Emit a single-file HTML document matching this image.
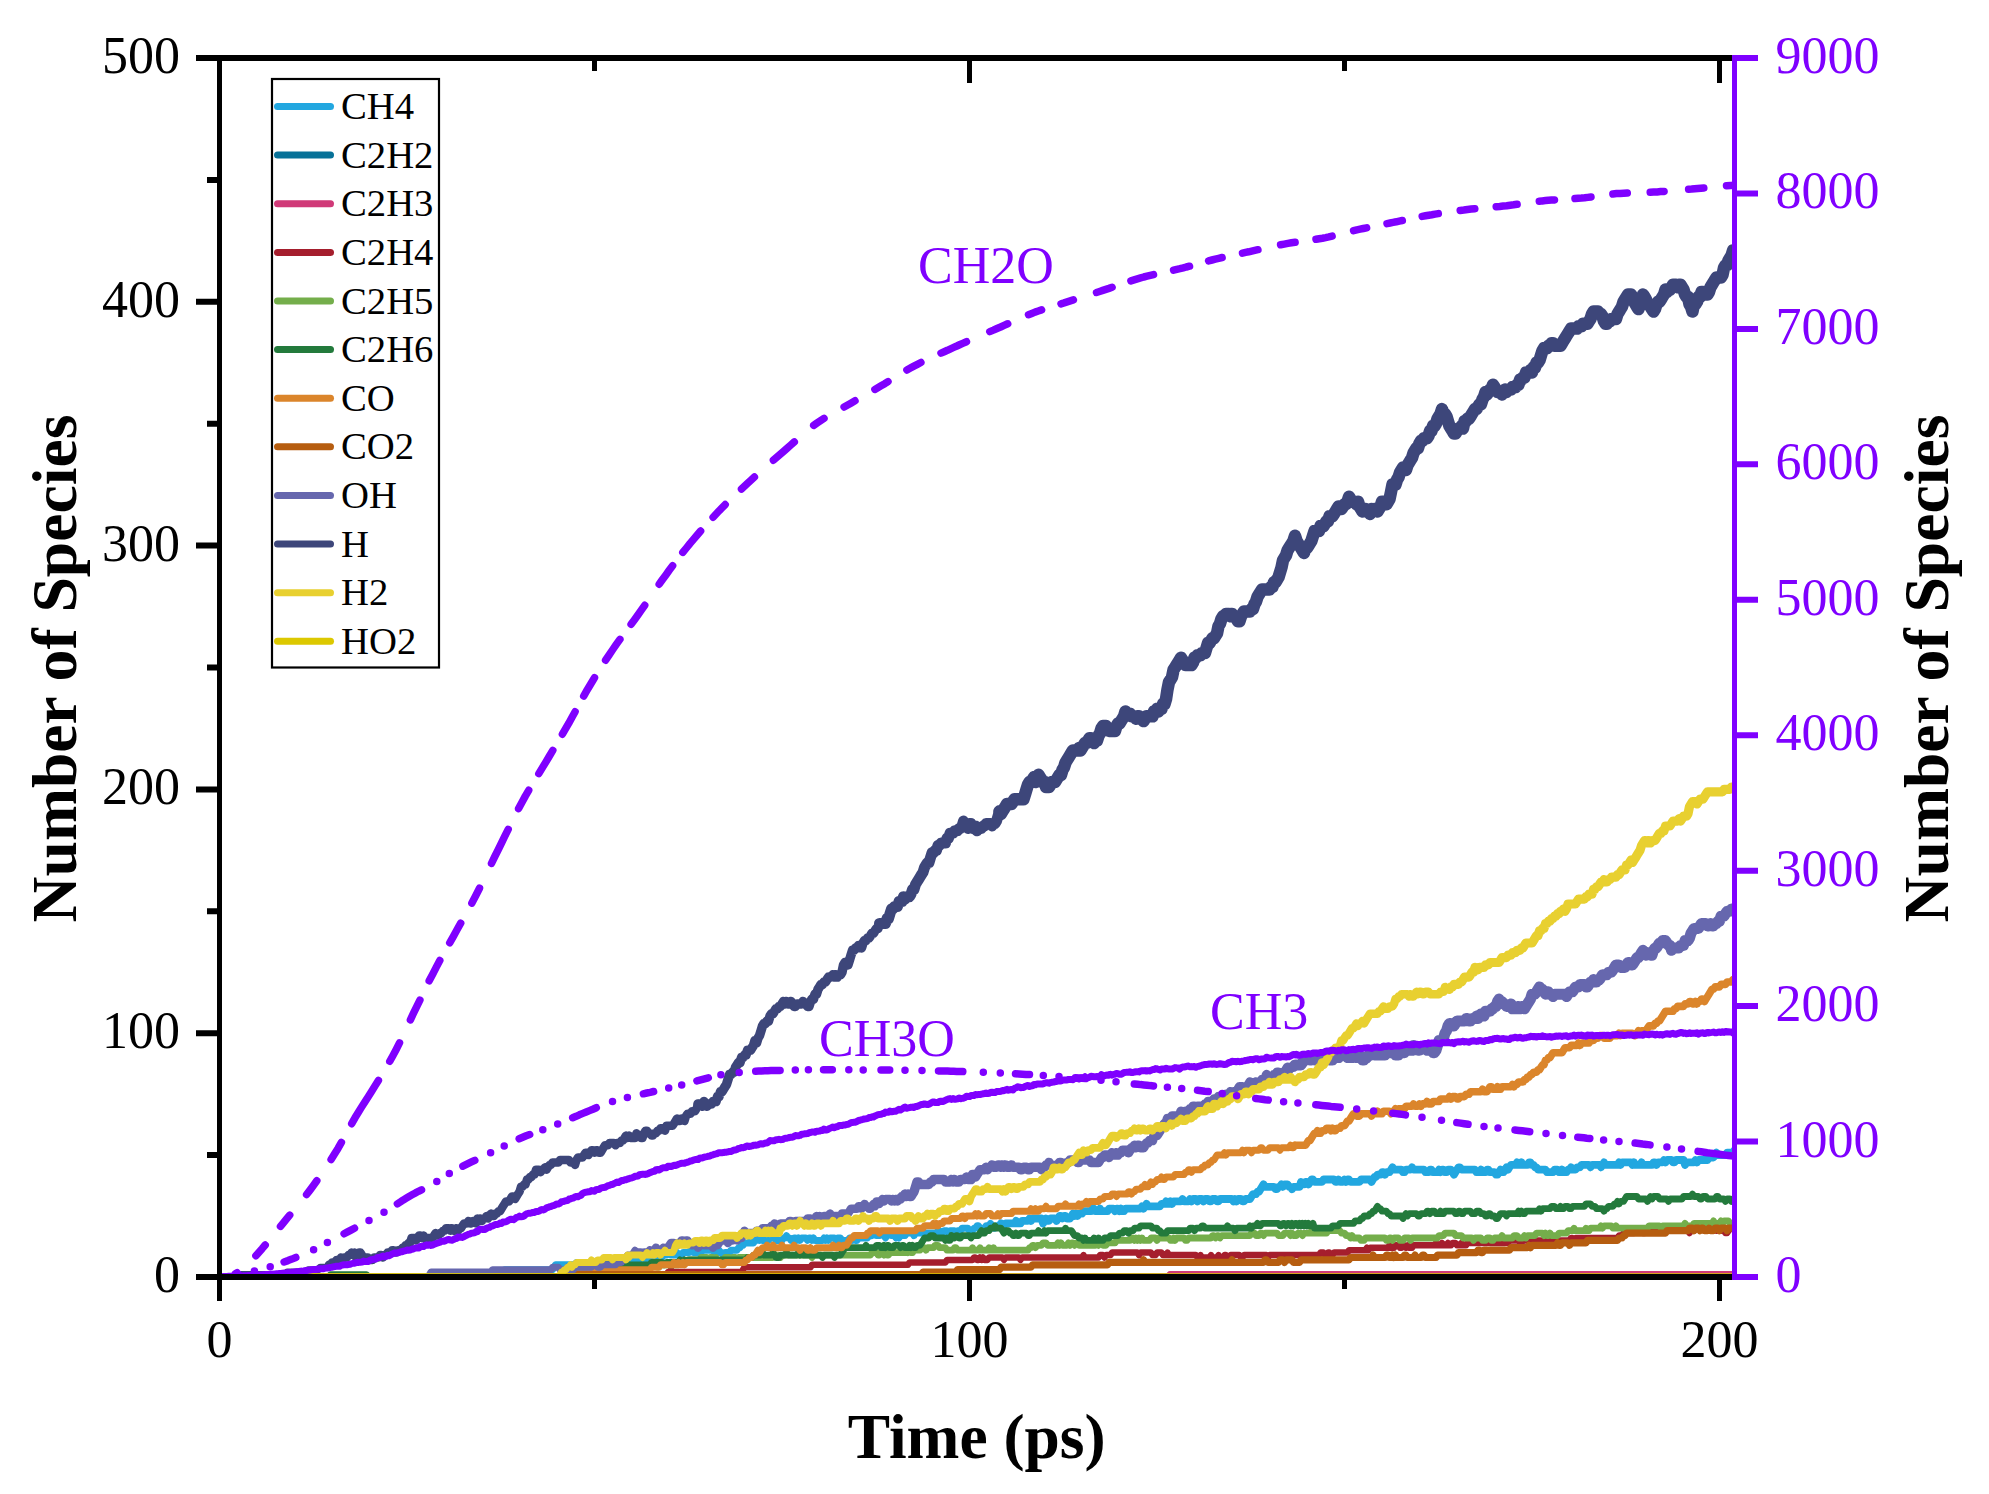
<!DOCTYPE html>
<html lang="en"><head><meta charset="utf-8"><title>Number of Species vs Time</title>
<style>
html,body{margin:0;padding:0;background:#fff}
svg{display:block}
text{font-family:"Liberation Serif",serif}
.tk{font-size:52px}
.lg{font-size:38.7px}
.ax{font-size:64px;font-weight:bold}
</style></head><body>
<svg width="1989" height="1494" viewBox="0 0 1989 1494">
<rect width="1989" height="1494" fill="#fff"/>
<defs><clipPath id="pc"><rect x="219.5" y="58.0" width="1515.0" height="1219.0"/></clipPath></defs>
<g clip-path="url(#pc)" fill="none" stroke-width="7" stroke-linejoin="round" stroke-linecap="round">
<path stroke="#22A7E0" stroke-width="7" d="M219.5 1277.0L500.0 1277.0L501.5 1274.6L503.0 1272.1L504.5 1269.7L552.5 1269.7L554.0 1267.2L555.5 1264.8L575.0 1264.8L576.5 1262.4L602.0 1262.4L603.5 1259.9L609.5 1259.9L611.0 1262.4L612.5 1262.4L614.0 1259.9L615.5 1262.4L617.0 1259.9L629.0 1259.9L630.5 1257.5L632.0 1259.9L633.5 1257.5L635.0 1257.5L636.5 1259.9L638.0 1257.5L639.5 1259.9L641.0 1259.9L642.5 1257.5L645.5 1257.5L647.0 1259.9L648.5 1257.5L657.5 1257.5L659.0 1255.1L660.5 1257.5L662.0 1257.5L663.5 1255.1L666.5 1255.1L668.0 1252.6L669.5 1252.6L671.0 1255.1L675.5 1255.1L677.0 1252.6L678.5 1255.1L681.5 1255.1L683.0 1252.6L689.0 1252.6L690.5 1250.2L692.0 1250.2L693.5 1252.6L701.0 1252.6L702.5 1250.2L713.0 1250.2L714.5 1252.6L717.5 1252.6L719.0 1250.2L720.5 1252.6L722.0 1252.6L723.5 1255.1L725.0 1252.6L729.5 1252.6L731.0 1250.2L737.0 1250.2L738.5 1247.7L740.0 1247.7L741.5 1245.3L743.0 1245.3L744.5 1242.9L749.0 1242.9L750.5 1240.4L752.0 1242.9L753.5 1242.9L755.0 1240.4L756.5 1240.4L758.0 1238.0L759.5 1240.4L761.0 1238.0L762.5 1240.4L768.5 1240.4L770.0 1238.0L774.5 1238.0L776.0 1240.4L782.0 1240.4L783.5 1238.0L785.0 1238.0L786.5 1235.6L788.0 1238.0L789.5 1238.0L791.0 1240.4L792.5 1240.4L794.0 1238.0L795.5 1238.0L797.0 1240.4L798.5 1238.0L800.0 1240.4L801.5 1238.0L806.0 1238.0L807.5 1240.4L809.0 1238.0L810.5 1238.0L812.0 1240.4L813.5 1238.0L815.0 1240.4L822.5 1240.4L824.0 1238.0L825.5 1240.4L827.0 1238.0L828.5 1240.4L830.0 1238.0L834.5 1238.0L836.0 1240.4L837.5 1238.0L840.5 1238.0L842.0 1240.4L848.0 1240.4L849.5 1238.0L851.0 1238.0L852.5 1240.4L854.0 1238.0L855.5 1240.4L857.0 1240.4L858.5 1238.0L867.5 1238.0L869.0 1235.6L870.5 1233.1L872.0 1235.6L873.5 1233.1L875.0 1233.1L876.5 1235.6L879.5 1235.6L881.0 1233.1L882.5 1233.1L884.0 1235.6L885.5 1238.0L887.0 1235.6L888.5 1233.1L890.0 1233.1L891.5 1235.6L894.5 1235.6L896.0 1238.0L897.5 1235.6L899.0 1238.0L900.5 1235.6L905.0 1235.6L906.5 1233.1L912.5 1233.1L914.0 1235.6L915.5 1233.1L917.0 1233.1L918.5 1230.7L920.0 1233.1L935.0 1233.1L936.5 1235.6L938.0 1230.7L939.5 1230.7L941.0 1233.1L942.5 1233.1L944.0 1230.7L947.0 1230.7L948.5 1233.1L950.0 1230.7L954.5 1230.7L956.0 1233.1L957.5 1230.7L960.5 1230.7L962.0 1228.2L968.0 1228.2L969.5 1230.7L972.5 1230.7L974.0 1228.2L975.5 1228.2L977.0 1225.8L978.5 1225.8L980.0 1228.2L981.5 1230.7L983.0 1228.2L984.5 1228.2L986.0 1225.8L989.0 1225.8L990.5 1223.4L992.0 1225.8L993.5 1228.2L995.0 1228.2L996.5 1225.8L999.5 1225.8"/>
<path stroke="#22A7E0" stroke-width="7.8" d="M999.5 1225.8L1001.0 1223.4L1002.5 1225.8L1004.0 1225.8L1005.5 1223.4L1014.5 1223.4L1016.0 1220.9L1017.5 1223.4L1020.5 1223.4L1022.0 1220.9L1028.0 1220.9L1029.5 1218.5L1031.0 1220.9L1032.5 1218.5L1041.5 1218.5L1043.0 1223.4L1044.5 1220.9L1046.0 1218.5L1047.5 1220.9L1049.0 1220.9L1050.5 1218.5L1055.0 1218.5L1056.5 1220.9L1058.0 1218.5L1059.5 1216.0L1061.0 1216.0L1062.5 1218.5L1064.0 1216.0L1065.5 1216.0L1067.0 1218.5L1070.0 1218.5L1071.5 1216.0L1073.0 1213.6L1074.5 1216.0L1076.0 1213.6L1077.5 1216.0L1079.0 1213.6L1082.0 1213.6L1083.5 1211.2L1091.0 1211.2L1092.5 1208.7L1094.0 1208.7L1095.5 1211.2L1098.5 1211.2L1100.0 1208.7L1101.5 1211.2L1107.5 1211.2L1109.0 1208.7L1113.5 1208.7L1115.0 1211.2L1116.5 1208.7L1118.0 1208.7L1119.5 1211.2L1121.0 1208.7L1122.5 1211.2L1124.0 1211.2L1125.5 1208.7L1140.5 1208.7L1142.0 1206.3L1143.5 1208.7L1145.0 1206.3L1146.5 1203.9L1148.0 1206.3L1160.0 1206.3L1161.5 1203.9L1164.5 1203.9L1166.0 1201.4L1167.5 1203.9L1169.0 1203.9L1170.5 1201.4L1172.0 1203.9L1173.5 1201.4L1181.0 1201.4L1182.5 1199.0L1184.0 1201.4L1188.5 1201.4L1190.0 1199.0L1191.5 1201.4L1193.0 1199.0L1196.0 1199.0L1197.5 1201.4L1199.0 1199.0L1202.0 1199.0L1203.5 1201.4L1205.0 1199.0L1208.0 1199.0L1209.5 1201.4L1211.0 1201.4L1212.5 1199.0L1215.5 1199.0L1217.0 1201.4L1218.5 1201.4L1220.0 1199.0L1232.0 1199.0L1233.5 1201.4L1235.0 1199.0L1236.5 1201.4L1238.0 1199.0L1241.0 1199.0L1242.5 1201.4L1244.0 1201.4L1245.5 1199.0L1250.0 1199.0L1251.5 1196.5L1253.0 1194.1L1256.0 1194.1L1257.5 1191.7L1259.0 1191.7L1260.5 1189.2L1262.0 1186.8L1263.5 1184.4L1265.0 1186.8L1274.0 1186.8L1275.5 1189.2L1277.0 1189.2L1278.5 1186.8L1280.0 1186.8L1281.5 1184.4L1283.0 1186.8L1284.5 1184.4L1287.5 1184.4L1289.0 1186.8L1290.5 1186.8L1292.0 1189.2L1293.5 1186.8L1299.5 1186.8L1301.0 1181.9L1302.5 1184.4L1304.0 1184.4L1305.5 1181.9L1307.0 1181.9L1308.5 1184.4L1310.0 1181.9L1311.5 1179.5L1313.0 1179.5L1314.5 1181.9L1322.0 1181.9L1323.5 1179.5L1334.0 1179.5L1335.5 1181.9L1337.0 1181.9L1338.5 1179.5L1340.0 1181.9L1343.0 1181.9L1344.5 1179.5L1346.0 1181.9L1347.5 1179.5L1349.0 1179.5L1350.5 1181.9L1359.5 1181.9L1361.0 1179.5L1370.0 1179.5L1371.5 1181.9L1373.0 1179.5L1374.5 1177.0L1376.0 1177.0L1377.5 1174.6L1380.5 1174.6L1382.0 1172.2L1383.5 1172.2L1385.0 1174.6L1386.5 1172.2L1389.5 1172.2L1391.0 1169.7L1392.5 1167.3L1394.0 1169.7L1401.5 1169.7L1403.0 1172.2L1404.5 1172.2L1406.0 1169.7L1410.5 1169.7L1412.0 1167.3L1413.5 1169.7L1424.0 1169.7L1425.5 1172.2L1428.5 1172.2L1430.0 1169.7L1431.5 1169.7L1433.0 1172.2L1437.5 1172.2L1439.0 1169.7L1440.5 1172.2L1442.0 1169.7L1443.5 1169.7L1445.0 1172.2L1446.5 1172.2L1448.0 1169.7L1451.0 1169.7L1452.5 1172.2L1454.0 1174.6L1455.5 1172.2L1457.0 1169.7L1458.5 1167.3L1460.0 1167.3L1461.5 1169.7L1475.0 1169.7L1476.5 1172.2L1479.5 1172.2L1481.0 1169.7L1482.5 1172.2L1485.5 1172.2L1487.0 1169.7L1488.5 1169.7L1490.0 1172.2L1494.5 1172.2L1496.0 1174.6L1497.5 1174.6L1499.0 1172.2L1500.5 1169.7L1502.0 1172.2L1503.5 1172.2L1505.0 1169.7L1506.5 1167.3L1508.0 1169.7L1509.5 1167.3L1511.0 1164.9L1515.5 1164.9L1517.0 1162.4L1518.5 1164.9L1520.0 1164.9L1521.5 1162.4L1523.0 1164.9L1527.5 1164.9L1529.0 1162.4L1530.5 1162.4L1532.0 1164.9L1533.5 1164.9L1535.0 1167.3L1536.5 1167.3L1538.0 1169.7L1545.5 1169.7L1547.0 1172.2L1553.0 1172.2L1554.5 1169.7L1557.5 1169.7L1559.0 1172.2L1560.5 1172.2L1562.0 1169.7L1563.5 1172.2L1566.5 1172.2L1568.0 1169.7L1569.5 1169.7L1571.0 1167.3L1572.5 1169.7L1575.5 1169.7L1577.0 1167.3L1580.0 1167.3L1581.5 1164.9L1589.0 1164.9L1590.5 1167.3L1592.0 1164.9L1599.5 1164.9L1601.0 1167.3L1602.5 1164.9L1604.0 1162.4L1605.5 1164.9L1617.5 1164.9L1619.0 1162.4L1620.5 1164.9L1622.0 1162.4L1631.0 1162.4L1632.5 1164.9L1634.0 1162.4L1635.5 1164.9L1640.0 1164.9L1641.5 1162.4L1643.0 1164.9L1652.0 1164.9L1653.5 1162.4L1655.0 1162.4L1656.5 1164.9L1658.0 1162.4L1662.5 1162.4L1664.0 1160.0L1665.5 1162.4L1667.0 1160.0L1671.5 1160.0L1673.0 1162.4L1674.5 1162.4L1676.0 1160.0L1683.5 1160.0L1685.0 1164.9L1686.5 1162.4L1694.0 1162.4L1695.5 1160.0L1697.0 1162.4L1698.5 1160.0L1707.5 1160.0L1709.0 1157.5L1713.5 1157.5L1715.0 1155.1L1716.5 1152.7L1718.0 1155.1L1725.5 1155.1L1727.0 1152.7L1733.0 1152.7L1734.5 1150.2"/>
<path stroke="#077198" stroke-width="7" d="M219.5 1276.8L1734.5 1276.8"/>
<path stroke="#D03A78" stroke-width="7" d="M219.5 1276.8L1168.0 1276.8L1170.0 1274.6L1734.5 1274.6"/>
<path stroke="#A51E2D" stroke-width="6.5" d="M219.5 1277.0L665.0 1277.0L666.5 1274.6L668.0 1272.1L669.5 1272.1L671.0 1269.7L672.5 1272.1L741.5 1272.1L743.0 1269.7L744.5 1267.2L810.5 1267.2L812.0 1264.8L908.0 1264.8L909.5 1262.4L945.5 1262.4L947.0 1259.9L972.5 1259.9L974.0 1257.5L975.5 1257.5L977.0 1259.9L978.5 1259.9L980.0 1257.5L981.5 1259.9L983.0 1257.5L984.5 1259.9L987.5 1259.9L989.0 1257.5L1002.5 1257.5L1004.0 1259.9L1005.5 1257.5L1019.0 1257.5L1020.5 1259.9L1022.0 1257.5L1082.0 1257.5L1083.5 1255.1L1085.0 1257.5L1098.5 1257.5L1100.0 1255.1L1103.0 1255.1L1104.5 1257.5L1106.0 1255.1L1110.5 1255.1L1112.0 1252.6L1137.5 1252.6L1139.0 1255.1L1140.5 1252.6L1151.0 1252.6L1152.5 1255.1L1155.5 1255.1L1157.0 1252.6L1161.5 1252.6L1163.0 1255.1L1166.0 1255.1L1167.5 1252.6L1169.0 1255.1L1196.0 1255.1L1197.5 1257.5L1199.0 1257.5L1200.5 1255.1L1202.0 1257.5L1209.5 1257.5L1211.0 1255.1L1212.5 1257.5L1217.0 1257.5L1218.5 1255.1L1220.0 1257.5L1223.0 1257.5L1224.5 1255.1L1226.0 1255.1L1227.5 1257.5L1229.0 1257.5L1230.5 1255.1L1239.5 1255.1L1241.0 1257.5L1242.5 1257.5L1244.0 1255.1L1266.5 1255.1L1268.0 1257.5L1269.5 1255.1L1319.0 1255.1L1320.5 1252.6L1323.5 1252.6L1325.0 1255.1L1326.5 1255.1L1328.0 1252.6L1329.5 1252.6L1331.0 1255.1L1332.5 1255.1L1334.0 1252.6L1347.5 1252.6L1349.0 1250.2L1365.5 1250.2L1367.0 1247.7L1368.5 1250.2L1370.0 1247.7L1388.0 1247.7L1389.5 1245.3L1391.0 1247.7L1394.0 1247.7L1395.5 1245.3L1398.5 1245.3L1400.0 1247.7L1401.5 1247.7L1403.0 1245.3L1404.5 1245.3L1406.0 1247.7L1407.5 1245.3L1409.0 1247.7L1412.0 1247.7L1413.5 1245.3L1434.5 1245.3L1436.0 1242.9L1437.5 1245.3L1440.5 1245.3L1442.0 1242.9L1443.5 1245.3L1446.5 1245.3L1448.0 1242.9L1449.5 1245.3L1451.0 1245.3L1452.5 1242.9L1455.5 1242.9L1457.0 1245.3L1460.0 1245.3L1461.5 1242.9L1463.0 1245.3L1466.0 1245.3L1467.5 1242.9L1487.0 1242.9L1488.5 1240.4L1490.0 1242.9L1505.0 1242.9L1506.5 1240.4L1508.0 1242.9L1509.5 1240.4L1518.5 1240.4L1520.0 1242.9L1521.5 1242.9L1523.0 1240.4L1550.0 1240.4L1551.5 1238.0L1553.0 1240.4L1569.5 1240.4L1571.0 1238.0L1572.5 1238.0L1574.0 1240.4L1575.5 1238.0L1617.5 1238.0L1619.0 1235.6L1622.0 1235.6L1623.5 1233.1L1634.0 1233.1L1635.5 1230.7L1641.5 1230.7L1643.0 1233.1L1644.5 1233.1L1646.0 1230.7L1670.0 1230.7L1671.5 1228.2L1673.0 1230.7L1674.5 1230.7L1676.0 1228.2L1677.5 1230.7L1679.0 1230.7L1680.5 1228.2L1682.0 1230.7L1688.0 1230.7L1689.5 1233.1L1691.0 1230.7L1694.0 1230.7L1695.5 1228.2L1703.0 1228.2L1704.5 1230.7L1706.0 1230.7L1707.5 1228.2L1709.0 1230.7L1710.5 1230.7L1712.0 1228.2L1713.5 1230.7L1715.0 1228.2L1716.5 1230.7L1718.0 1228.2L1719.5 1228.2L1721.0 1230.7L1724.0 1230.7L1725.5 1233.1L1727.0 1233.1L1728.5 1230.7L1730.0 1228.2L1733.0 1228.2L1734.5 1230.7"/>
<path stroke="#74AE4B" stroke-width="6.8" d="M219.5 1277.0L620.0 1277.0L621.5 1274.6L623.0 1274.6L624.5 1272.1L626.0 1272.1L627.5 1269.7L629.0 1269.7L630.5 1267.2L651.5 1267.2L653.0 1264.8L656.0 1264.8L657.5 1267.2L659.0 1267.2L660.5 1264.8L678.5 1264.8L680.0 1262.4L687.5 1262.4L689.0 1259.9L699.5 1259.9L701.0 1257.5L707.0 1257.5L708.5 1259.9L710.0 1257.5L713.0 1257.5L714.5 1259.9L716.0 1257.5L717.5 1259.9L723.5 1259.9L725.0 1257.5L729.5 1257.5L731.0 1259.9L732.5 1257.5L735.5 1257.5L737.0 1259.9L738.5 1257.5L773.0 1257.5L774.5 1255.1L779.0 1255.1L780.5 1257.5L782.0 1255.1L810.5 1255.1L812.0 1257.5L813.5 1255.1L870.5 1255.1L872.0 1252.6L876.5 1252.6L878.0 1255.1L879.5 1255.1L881.0 1252.6L882.5 1252.6L884.0 1255.1L885.5 1252.6L887.0 1255.1L888.5 1255.1L890.0 1252.6L905.0 1252.6L906.5 1250.2L908.0 1252.6L909.5 1250.2L911.0 1252.6L912.5 1252.6L914.0 1250.2L920.0 1250.2L921.5 1247.7L924.5 1247.7L926.0 1250.2L927.5 1247.7L933.5 1247.7L935.0 1245.3L938.0 1245.3L939.5 1247.7L945.5 1247.7L947.0 1250.2L953.0 1250.2L954.5 1247.7L956.0 1247.7L957.5 1250.2L971.0 1250.2L972.5 1247.7L974.0 1250.2L978.5 1250.2L980.0 1247.7L981.5 1250.2L987.5 1250.2L989.0 1247.7L990.5 1250.2L992.0 1250.2L993.5 1247.7L995.0 1250.2L1028.0 1250.2L1029.5 1247.7L1031.0 1247.7L1032.5 1245.3L1034.0 1245.3L1035.5 1247.7L1037.0 1245.3L1041.5 1245.3L1043.0 1242.9L1046.0 1242.9L1047.5 1245.3L1056.5 1245.3L1058.0 1242.9L1059.5 1245.3L1061.0 1242.9L1062.5 1245.3L1067.0 1245.3L1068.5 1242.9L1070.0 1245.3L1071.5 1242.9L1073.0 1242.9L1074.5 1245.3L1076.0 1242.9L1077.5 1242.9L1079.0 1245.3L1095.5 1245.3L1097.0 1242.9L1098.5 1245.3L1100.0 1242.9L1101.5 1242.9L1103.0 1245.3L1106.0 1245.3L1107.5 1242.9L1115.0 1242.9L1116.5 1240.4L1130.0 1240.4L1131.5 1238.0L1133.0 1238.0L1134.5 1240.4L1136.0 1238.0L1137.5 1240.4L1139.0 1238.0L1140.5 1240.4L1142.0 1238.0L1143.5 1240.4L1149.5 1240.4L1151.0 1238.0L1155.5 1238.0L1157.0 1240.4L1158.5 1238.0L1169.0 1238.0L1170.5 1240.4L1172.0 1240.4L1173.5 1238.0L1175.0 1240.4L1176.5 1238.0L1184.0 1238.0L1185.5 1240.4L1187.0 1240.4L1188.5 1238.0L1211.0 1238.0L1212.5 1235.6L1214.0 1235.6L1215.5 1238.0L1217.0 1235.6L1218.5 1235.6L1220.0 1238.0L1221.5 1235.6L1250.0 1235.6L1251.5 1233.1L1254.5 1233.1L1256.0 1235.6L1259.0 1235.6L1260.5 1233.1L1262.0 1233.1L1263.5 1235.6L1265.0 1233.1L1277.0 1233.1L1278.5 1235.6L1283.0 1235.6L1284.5 1233.1L1289.0 1233.1L1290.5 1235.6L1292.0 1233.1L1293.5 1235.6L1296.5 1235.6L1298.0 1233.1L1301.0 1233.1L1302.5 1235.6L1304.0 1233.1L1310.0 1233.1L1311.5 1230.7L1313.0 1233.1L1326.5 1233.1L1328.0 1230.7L1340.0 1230.7L1341.5 1233.1L1344.5 1233.1L1346.0 1235.6L1349.0 1235.6L1350.5 1238.0L1352.0 1235.6L1353.5 1238.0L1359.5 1238.0L1361.0 1240.4L1364.0 1240.4L1365.5 1238.0L1385.0 1238.0L1386.5 1240.4L1388.0 1240.4L1389.5 1238.0L1391.0 1238.0L1392.5 1240.4L1394.0 1238.0L1398.5 1238.0L1400.0 1240.4L1403.0 1240.4L1404.5 1238.0L1409.0 1238.0L1410.5 1240.4L1412.0 1238.0L1437.5 1238.0L1439.0 1235.6L1443.5 1235.6L1445.0 1233.1L1454.0 1233.1L1455.5 1235.6L1461.5 1235.6L1463.0 1238.0L1472.0 1238.0L1473.5 1240.4L1475.0 1238.0L1481.0 1238.0L1482.5 1240.4L1485.5 1240.4L1487.0 1238.0L1490.0 1238.0L1491.5 1240.4L1493.0 1240.4L1494.5 1238.0L1500.5 1238.0L1502.0 1235.6L1503.5 1238.0L1512.5 1238.0L1514.0 1235.6L1517.0 1235.6L1518.5 1238.0L1523.0 1238.0L1524.5 1235.6L1526.0 1238.0L1527.5 1235.6L1535.0 1235.6L1536.5 1233.1L1542.5 1233.1L1544.0 1235.6L1545.5 1233.1L1547.0 1235.6L1548.5 1235.6L1550.0 1233.1L1551.5 1235.6L1557.5 1235.6L1559.0 1233.1L1566.5 1233.1L1568.0 1230.7L1572.5 1230.7L1574.0 1228.2L1575.5 1230.7L1584.5 1230.7L1586.0 1228.2L1587.5 1230.7L1589.0 1230.7L1590.5 1228.2L1599.5 1228.2L1601.0 1225.8L1602.5 1228.2L1604.0 1225.8L1611.5 1225.8L1613.0 1228.2L1614.5 1228.2L1616.0 1225.8L1617.5 1228.2L1647.5 1228.2L1649.0 1225.8L1659.5 1225.8L1661.0 1228.2L1662.5 1225.8L1683.5 1225.8L1685.0 1223.4L1686.5 1225.8L1692.5 1225.8L1694.0 1223.4L1712.0 1223.4L1713.5 1220.9L1715.0 1223.4L1719.5 1223.4L1721.0 1220.9L1722.5 1223.4L1724.0 1220.9L1728.5 1220.9L1730.0 1223.4L1734.5 1223.4"/>
<path stroke="#237A3C" stroke-width="6.8" d="M219.5 1277.0L329.0 1277.0L330.5 1274.6L366.5 1274.6L368.0 1277.0L591.5 1277.0L593.0 1274.6L594.5 1272.1L596.0 1269.7L597.5 1264.8L650.0 1264.8L651.5 1262.4L662.0 1262.4L663.5 1264.8L665.0 1264.8L666.5 1262.4L678.5 1262.4L680.0 1259.9L681.5 1262.4L683.0 1262.4L684.5 1259.9L686.0 1262.4L687.5 1259.9L717.5 1259.9L719.0 1262.4L720.5 1259.9L746.0 1259.9L747.5 1257.5L752.0 1257.5L753.5 1255.1L761.0 1255.1L762.5 1252.6L764.0 1255.1L771.5 1255.1L773.0 1252.6L774.5 1255.1L776.0 1257.5L779.0 1257.5L780.5 1255.1L785.0 1255.1L786.5 1252.6L788.0 1255.1L797.0 1255.1L798.5 1252.6L800.0 1255.1L801.5 1252.6L803.0 1255.1L821.0 1255.1L822.5 1257.5L824.0 1255.1L833.0 1255.1L834.5 1257.5L836.0 1255.1L840.5 1255.1L842.0 1252.6L843.5 1250.2L845.0 1247.7L864.5 1247.7L866.0 1245.3L867.5 1247.7L875.0 1247.7L876.5 1245.3L879.5 1245.3L881.0 1247.7L882.5 1247.7L884.0 1245.3L885.5 1247.7L887.0 1245.3L888.5 1245.3L890.0 1247.7L893.0 1247.7L894.5 1245.3L899.0 1245.3L900.5 1247.7L902.0 1245.3L903.5 1245.3L905.0 1247.7L908.0 1247.7L909.5 1245.3L911.0 1247.7L912.5 1245.3L914.0 1247.7L915.5 1247.7L917.0 1245.3L920.0 1245.3L921.5 1242.9L923.0 1240.4L924.5 1238.0L929.0 1238.0L930.5 1235.6L933.5 1235.6L935.0 1238.0L944.0 1238.0L945.5 1240.4L947.0 1238.0L948.5 1240.4L950.0 1240.4L951.5 1235.6L953.0 1238.0L954.5 1238.0L956.0 1235.6L957.5 1235.6L959.0 1238.0L960.5 1238.0L962.0 1235.6L969.5 1235.6L971.0 1238.0L972.5 1235.6L978.5 1235.6L980.0 1233.1L981.5 1230.7L983.0 1233.1L984.5 1233.1L986.0 1230.7L989.0 1230.7L990.5 1228.2L993.5 1228.2L995.0 1225.8L996.5 1228.2L1001.0 1228.2L1002.5 1230.7L1004.0 1233.1L1005.5 1230.7L1008.5 1230.7L1010.0 1233.1L1011.5 1233.1L1013.0 1235.6L1014.5 1235.6L1016.0 1233.1L1017.5 1235.6L1019.0 1235.6L1020.5 1233.1L1026.5 1233.1L1028.0 1235.6L1029.5 1235.6L1031.0 1233.1L1037.0 1233.1L1038.5 1230.7L1040.0 1233.1L1043.0 1233.1L1044.5 1230.7L1046.0 1233.1L1047.5 1230.7L1064.0 1230.7L1065.5 1228.2L1067.0 1230.7L1071.5 1230.7L1073.0 1233.1L1074.5 1235.6L1077.5 1235.6L1079.0 1238.0L1082.0 1238.0L1083.5 1240.4L1085.0 1238.0L1086.5 1240.4L1092.5 1240.4L1094.0 1238.0L1095.5 1240.4L1097.0 1240.4L1098.5 1238.0L1100.0 1240.4L1103.0 1240.4L1104.5 1238.0L1109.0 1238.0L1110.5 1235.6L1118.0 1235.6L1119.5 1233.1L1122.5 1233.1L1124.0 1230.7L1127.0 1230.7L1128.5 1233.1L1130.0 1230.7L1133.0 1230.7L1134.5 1228.2L1139.0 1228.2L1140.5 1225.8L1151.0 1225.8L1152.5 1228.2L1157.0 1228.2L1158.5 1230.7L1160.0 1230.7L1161.5 1233.1L1166.0 1233.1L1167.5 1230.7L1188.5 1230.7L1190.0 1228.2L1193.0 1228.2L1194.5 1230.7L1196.0 1228.2L1200.5 1228.2L1202.0 1225.8L1203.5 1225.8L1205.0 1228.2L1226.0 1228.2L1227.5 1225.8L1229.0 1228.2L1233.5 1228.2L1235.0 1230.7L1236.5 1228.2L1248.5 1228.2L1250.0 1225.8L1251.5 1228.2L1253.0 1225.8L1256.0 1225.8L1257.5 1223.4L1259.0 1225.8L1260.5 1225.8L1262.0 1223.4L1278.5 1223.4L1280.0 1225.8L1281.5 1225.8L1283.0 1223.4L1284.5 1223.4L1286.0 1225.8L1287.5 1223.4L1289.0 1223.4L1290.5 1225.8L1292.0 1223.4L1293.5 1225.8L1295.0 1223.4L1296.5 1223.4L1298.0 1225.8L1299.5 1223.4L1301.0 1225.8L1302.5 1223.4L1304.0 1225.8L1305.5 1223.4L1307.0 1225.8L1308.5 1223.4L1310.0 1225.8L1311.5 1225.8L1313.0 1223.4L1314.5 1228.2L1331.0 1228.2L1332.5 1225.8L1338.5 1225.8L1340.0 1223.4L1353.5 1223.4L1355.0 1220.9L1359.5 1220.9L1361.0 1218.5L1362.5 1218.5L1364.0 1216.0L1368.5 1216.0L1370.0 1213.6L1371.5 1213.6L1373.0 1211.2L1374.5 1211.2L1376.0 1208.7L1377.5 1206.3L1379.0 1208.7L1380.5 1208.7L1382.0 1211.2L1386.5 1211.2L1388.0 1213.6L1389.5 1213.6L1391.0 1216.0L1401.5 1216.0L1403.0 1218.5L1404.5 1216.0L1406.0 1213.6L1407.5 1216.0L1409.0 1213.6L1416.5 1213.6L1418.0 1216.0L1419.5 1216.0L1421.0 1213.6L1425.5 1213.6L1427.0 1211.2L1428.5 1211.2L1430.0 1213.6L1431.5 1211.2L1434.5 1211.2L1436.0 1213.6L1439.0 1213.6L1440.5 1211.2L1442.0 1213.6L1443.5 1213.6L1445.0 1211.2L1454.0 1211.2L1455.5 1213.6L1457.0 1213.6L1458.5 1211.2L1460.0 1211.2L1461.5 1213.6L1463.0 1213.6L1464.5 1211.2L1470.5 1211.2L1472.0 1213.6L1475.0 1213.6L1476.5 1211.2L1479.5 1211.2L1481.0 1213.6L1484.0 1213.6L1485.5 1216.0L1487.0 1216.0L1488.5 1213.6L1490.0 1213.6L1491.5 1216.0L1494.5 1216.0L1496.0 1218.5L1497.5 1218.5L1499.0 1216.0L1500.5 1213.6L1505.0 1213.6L1506.5 1216.0L1508.0 1213.6L1517.0 1213.6L1518.5 1211.2L1520.0 1213.6L1521.5 1211.2L1523.0 1213.6L1524.5 1213.6L1526.0 1211.2L1538.0 1211.2L1539.5 1208.7L1541.0 1211.2L1542.5 1208.7L1550.0 1208.7L1551.5 1206.3L1554.5 1206.3L1556.0 1208.7L1559.0 1208.7L1560.5 1206.3L1562.0 1208.7L1563.5 1208.7L1565.0 1206.3L1568.0 1206.3L1569.5 1208.7L1571.0 1208.7L1572.5 1206.3L1584.5 1206.3L1586.0 1203.9L1590.5 1203.9L1592.0 1206.3L1595.0 1206.3L1596.5 1208.7L1602.5 1208.7L1604.0 1211.2L1605.5 1208.7L1607.0 1208.7L1608.5 1206.3L1613.0 1206.3L1614.5 1203.9L1616.0 1203.9L1617.5 1201.4L1619.0 1203.9L1620.5 1201.4L1623.5 1201.4L1625.0 1199.0L1626.5 1196.5L1637.0 1196.5L1638.5 1199.0L1646.0 1199.0L1647.5 1201.4L1649.0 1199.0L1650.5 1196.5L1652.0 1199.0L1653.5 1196.5L1658.0 1196.5L1659.5 1199.0L1667.0 1199.0L1668.5 1201.4L1670.0 1199.0L1682.0 1199.0L1683.5 1196.5L1691.0 1196.5L1692.5 1194.1L1694.0 1196.5L1698.5 1196.5L1700.0 1199.0L1701.5 1199.0L1703.0 1196.5L1706.0 1196.5L1707.5 1199.0L1715.0 1199.0L1716.5 1196.5L1718.0 1196.5L1719.5 1199.0L1724.0 1199.0L1725.5 1201.4L1727.0 1199.0L1730.0 1199.0L1731.5 1201.4L1733.0 1199.0L1734.5 1201.4"/>
<path stroke="#DB852B" stroke-width="7" d="M219.5 1277.0L564.5 1277.0L566.0 1274.6L567.5 1274.6L569.0 1272.1L603.5 1272.1L605.0 1269.7L606.5 1269.7L608.0 1272.1L609.5 1269.7L650.0 1269.7L651.5 1267.2L659.0 1267.2L660.5 1264.8L672.5 1264.8L674.0 1262.4L675.5 1264.8L677.0 1264.8L678.5 1262.4L680.0 1264.8L681.5 1264.8L683.0 1262.4L684.5 1264.8L686.0 1262.4L720.5 1262.4L722.0 1264.8L723.5 1264.8L725.0 1262.4L744.5 1262.4L746.0 1259.9L747.5 1259.9L749.0 1257.5L752.0 1257.5L753.5 1255.1L755.0 1255.1L756.5 1252.6L758.0 1250.2L759.5 1252.6L761.0 1250.2L762.5 1247.7L765.5 1247.7L767.0 1245.3L768.5 1247.7L771.5 1247.7L773.0 1245.3L774.5 1247.7L780.5 1247.7L782.0 1245.3L783.5 1247.7L792.5 1247.7L794.0 1245.3L795.5 1247.7L798.5 1247.7L800.0 1250.2L801.5 1247.7L806.0 1247.7L807.5 1250.2L809.0 1250.2L810.5 1247.7L812.0 1250.2L815.0 1250.2L816.5 1247.7L831.5 1247.7L833.0 1245.3L834.5 1247.7L837.5 1247.7L839.0 1245.3L840.5 1247.7L842.0 1247.7L843.5 1245.3L846.5 1245.3L848.0 1242.9L849.5 1240.4L851.0 1238.0L852.5 1238.0L854.0 1235.6L866.0 1235.6L867.5 1233.1L869.0 1233.1L870.5 1230.7L878.0 1230.7L879.5 1233.1L881.0 1230.7L915.5 1230.7L917.0 1228.2L923.0 1228.2L924.5 1225.8L932.0 1225.8L933.5 1223.4L935.0 1225.8L936.5 1223.4L938.0 1225.8L939.5 1223.4L942.5 1223.4L944.0 1220.9L950.0 1220.9L951.5 1218.5L960.5 1218.5L962.0 1216.0L963.5 1216.0L965.0 1218.5L966.5 1216.0L974.0 1216.0L975.5 1213.6L977.0 1216.0L978.5 1213.6L980.0 1216.0L984.5 1216.0L986.0 1213.6L990.5 1213.6L992.0 1216.0L996.5 1216.0L998.0 1213.6L999.5 1216.0L1001.0 1213.6L1011.5 1213.6L1013.0 1211.2L1029.5 1211.2L1031.0 1208.7L1032.5 1211.2L1034.0 1211.2L1035.5 1208.7L1037.0 1211.2L1038.5 1211.2L1040.0 1208.7L1044.5 1208.7L1046.0 1206.3L1047.5 1208.7L1056.5 1208.7L1058.0 1206.3L1064.0 1206.3L1065.5 1203.9L1067.0 1206.3L1077.5 1206.3L1079.0 1203.9L1080.5 1206.3L1082.0 1203.9L1085.0 1203.9L1086.5 1201.4L1088.0 1203.9L1089.5 1201.4L1098.5 1201.4L1100.0 1199.0L1103.0 1199.0L1104.5 1196.5L1110.5 1196.5L1112.0 1194.1L1115.0 1194.1L1116.5 1196.5L1118.0 1194.1L1127.0 1194.1L1128.5 1191.7L1130.0 1191.7L1131.5 1194.1L1133.0 1191.7L1134.5 1191.7L1136.0 1189.2L1140.5 1189.2L1142.0 1186.8L1143.5 1186.8L1145.0 1184.4L1146.5 1186.8L1148.0 1186.8L1149.5 1184.4L1151.0 1181.9L1152.5 1184.4L1154.0 1181.9L1155.5 1181.9L1157.0 1179.5L1160.0 1179.5L1161.5 1177.0L1163.0 1179.5L1164.5 1179.5L1166.0 1177.0L1173.5 1177.0L1175.0 1174.6L1184.0 1174.6L1185.5 1172.2L1187.0 1172.2L1188.5 1169.7L1190.0 1169.7L1191.5 1172.2L1193.0 1169.7L1200.5 1169.7L1202.0 1167.3L1203.5 1167.3L1205.0 1164.9L1208.0 1164.9L1209.5 1162.4L1211.0 1162.4L1212.5 1160.0L1214.0 1160.0L1215.5 1157.5L1217.0 1155.1L1223.0 1155.1L1224.5 1152.7L1226.0 1155.1L1227.5 1152.7L1241.0 1152.7L1242.5 1150.2L1244.0 1152.7L1245.5 1150.2L1250.0 1150.2L1251.5 1152.7L1253.0 1150.2L1259.0 1150.2L1260.5 1147.8L1262.0 1147.8L1263.5 1150.2L1268.0 1150.2L1269.5 1147.8L1278.5 1147.8L1280.0 1150.2L1281.5 1147.8L1289.0 1147.8L1290.5 1145.3L1292.0 1147.8L1293.5 1147.8L1295.0 1145.3"/>
<path stroke="#DB852B" stroke-width="7.6" d="M1295.0 1145.3L1305.5 1145.3L1307.0 1142.9L1308.5 1140.5L1310.0 1140.5L1311.5 1138.0L1313.0 1135.6L1314.5 1133.2L1316.0 1133.2L1317.5 1130.7L1319.0 1133.2L1320.5 1133.2L1322.0 1130.7L1325.0 1130.7L1326.5 1128.3L1329.5 1128.3L1331.0 1130.7L1332.5 1128.3L1334.0 1130.7L1335.5 1130.7L1337.0 1128.3L1340.0 1128.3L1341.5 1125.8L1344.5 1125.8L1346.0 1123.4L1347.5 1121.0L1349.0 1121.0L1350.5 1118.5L1352.0 1116.1L1353.5 1113.7L1355.0 1113.7L1356.5 1116.1L1359.5 1116.1L1361.0 1113.7L1370.0 1113.7L1371.5 1116.1L1373.0 1113.7L1376.0 1113.7L1377.5 1111.2L1379.0 1113.7L1382.0 1113.7L1383.5 1111.2L1389.5 1111.2L1391.0 1113.7L1392.5 1111.2L1394.0 1111.2L1395.5 1108.8L1397.0 1111.2L1398.5 1108.8L1404.5 1108.8L1406.0 1106.3L1412.0 1106.3L1413.5 1103.9L1415.0 1106.3L1418.0 1106.3L1419.5 1103.9L1421.0 1106.3L1422.5 1103.9L1425.5 1103.9L1427.0 1101.5L1428.5 1103.9L1431.5 1103.9L1433.0 1101.5L1439.0 1101.5L1440.5 1099.0L1448.0 1099.0L1449.5 1096.6L1451.0 1099.0L1452.5 1096.6L1455.5 1096.6L1457.0 1099.0L1458.5 1099.0L1460.0 1096.6L1464.5 1096.6L1466.0 1094.2L1469.0 1094.2L1470.5 1091.7L1481.0 1091.7L1482.5 1089.3L1484.0 1091.7L1487.0 1091.7L1488.5 1089.3L1490.0 1086.8L1491.5 1086.8L1493.0 1089.3L1496.0 1089.3L1497.5 1086.8L1499.0 1089.3L1500.5 1089.3L1502.0 1086.8L1511.0 1086.8L1512.5 1084.4L1514.0 1086.8L1515.5 1084.4L1517.0 1084.4L1518.5 1082.0L1523.0 1082.0L1524.5 1079.5L1526.0 1079.5L1527.5 1077.1L1529.0 1077.1L1530.5 1074.6L1532.0 1074.6L1533.5 1072.2L1536.5 1072.2L1538.0 1069.8L1539.5 1069.8L1541.0 1067.3L1542.5 1064.9L1544.0 1064.9L1545.5 1060.0L1547.0 1060.0L1548.5 1057.6L1550.0 1057.6L1551.5 1055.1L1553.0 1052.7L1562.0 1052.7L1563.5 1050.3L1565.0 1047.8L1569.5 1047.8L1571.0 1045.4L1577.0 1045.4L1578.5 1043.0L1580.0 1045.4L1581.5 1043.0L1589.0 1043.0L1590.5 1040.5L1593.5 1040.5L1595.0 1038.1L1598.0 1038.1L1599.5 1035.6L1602.5 1035.6L1604.0 1038.1L1610.0 1038.1L1611.5 1035.6L1617.5 1035.6L1619.0 1033.2L1620.5 1035.6L1622.0 1033.2L1632.5 1033.2L1634.0 1035.6L1635.5 1035.6L1637.0 1033.2L1638.5 1030.8L1640.0 1033.2L1641.5 1030.8L1646.0 1030.8L1647.5 1028.3L1649.0 1025.9L1653.5 1025.9L1655.0 1023.4L1656.5 1023.4L1658.0 1021.0L1659.5 1021.0L1661.0 1018.6L1662.5 1016.1L1664.0 1013.7L1665.5 1011.3L1673.0 1011.3L1674.5 1008.8L1676.0 1008.8L1677.5 1006.4L1683.5 1006.4L1685.0 1003.9L1688.0 1003.9L1689.5 1001.5L1691.0 1001.5L1692.5 1003.9L1694.0 1003.9L1695.5 1001.5L1697.0 1003.9L1698.5 1001.5L1700.0 1001.5L1701.5 999.1L1703.0 999.1L1704.5 1001.5L1706.0 999.1L1707.5 996.6L1709.0 994.2L1710.5 991.8L1712.0 989.3L1713.5 989.3L1715.0 986.9L1719.5 986.9L1721.0 984.4L1725.5 984.4L1727.0 982.0L1731.5 982.0L1733.0 979.6L1734.5 979.6"/>
<path stroke="#B65D10" stroke-width="7.2" d="M219.5 1277.0L570.5 1277.0L572.0 1274.6L921.5 1274.6L923.0 1272.1L956.0 1272.1L957.5 1269.7L999.5 1269.7L1001.0 1267.2L1031.0 1267.2L1032.5 1264.8L1107.5 1264.8L1109.0 1262.4L1142.0 1262.4L1143.5 1259.9L1145.0 1262.4L1230.5 1262.4L1232.0 1259.9L1233.5 1262.4L1263.5 1262.4L1265.0 1259.9L1266.5 1259.9L1268.0 1262.4L1278.5 1262.4L1280.0 1259.9L1283.0 1259.9L1284.5 1262.4L1286.0 1259.9L1292.0 1259.9L1293.5 1262.4L1299.5 1262.4L1301.0 1259.9L1349.0 1259.9L1350.5 1257.5L1371.5 1257.5L1373.0 1255.1L1374.5 1257.5L1385.0 1257.5L1386.5 1255.1L1388.0 1255.1L1389.5 1257.5L1391.0 1257.5L1392.5 1255.1L1394.0 1257.5L1395.5 1255.1L1397.0 1257.5L1403.0 1257.5L1404.5 1255.1L1406.0 1255.1L1407.5 1257.5L1413.5 1257.5L1415.0 1255.1L1416.5 1257.5L1421.0 1257.5L1422.5 1255.1L1424.0 1255.1L1425.5 1257.5L1436.0 1257.5L1437.5 1255.1L1457.0 1255.1L1458.5 1252.6L1476.5 1252.6L1478.0 1250.2L1479.5 1250.2L1481.0 1252.6L1482.5 1252.6L1484.0 1250.2L1509.5 1250.2L1511.0 1247.7L1527.5 1247.7L1529.0 1245.3L1530.5 1247.7L1532.0 1245.3L1556.0 1245.3L1557.5 1242.9L1559.0 1245.3L1560.5 1245.3L1562.0 1242.9L1568.0 1242.9L1569.5 1245.3L1571.0 1242.9L1586.0 1242.9L1587.5 1240.4L1617.5 1240.4L1619.0 1238.0L1622.0 1238.0L1623.5 1235.6L1625.0 1235.6L1626.5 1233.1L1665.5 1233.1L1667.0 1230.7L1688.0 1230.7L1689.5 1228.2L1692.5 1228.2L1694.0 1230.7L1695.5 1228.2L1698.5 1228.2L1700.0 1230.7L1701.5 1228.2L1703.0 1228.2L1704.5 1230.7L1707.5 1230.7L1709.0 1228.2L1710.5 1230.7L1713.5 1230.7L1715.0 1228.2L1718.0 1228.2L1719.5 1230.7L1721.0 1228.2L1725.5 1228.2L1727.0 1230.7L1728.5 1228.2L1734.5 1228.2"/>
<path stroke="#6667AE" stroke-width="7" d="M219.5 1277.0L428.0 1277.0L429.5 1274.6L431.0 1272.1L491.0 1272.1L492.5 1269.7L551.0 1269.7L552.5 1267.2L558.5 1267.2L560.0 1269.7L566.0 1269.7L567.5 1267.2L569.0 1269.7L573.5 1269.7L575.0 1267.2L591.5 1267.2L593.0 1264.8L596.0 1264.8L597.5 1267.2L600.5 1267.2L602.0 1264.8L615.5 1264.8L617.0 1262.4L621.5 1262.4L623.0 1257.5L624.5 1259.9L626.0 1257.5L627.5 1255.1L632.0 1255.1L633.5 1252.6L635.0 1250.2L636.5 1252.6"/>
<path stroke="#6667AE" stroke-width="8.5" d="M636.5 1252.6L641.0 1252.6L642.5 1255.1L644.0 1252.6L648.5 1252.6L650.0 1250.2L651.5 1252.6L653.0 1250.2L654.5 1250.2L656.0 1247.7L657.5 1250.2L662.0 1250.2L663.5 1247.7L665.0 1250.2L666.5 1247.7L668.0 1247.7L669.5 1245.3L671.0 1242.9L674.0 1242.9L675.5 1245.3L677.0 1245.3L678.5 1242.9L680.0 1242.9L681.5 1240.4L683.0 1240.4L684.5 1242.9L686.0 1240.4L687.5 1240.4L689.0 1242.9L690.5 1242.9L692.0 1245.3L693.5 1242.9L695.0 1242.9L696.5 1245.3L698.0 1247.7L699.5 1245.3L701.0 1245.3L702.5 1242.9L704.0 1245.3L708.5 1245.3L710.0 1242.9L711.5 1245.3L713.0 1247.7L714.5 1242.9L716.0 1245.3L717.5 1245.3L719.0 1242.9L720.5 1240.4L725.0 1240.4L726.5 1238.0L728.0 1242.9L729.5 1238.0L731.0 1240.4L732.5 1240.4L734.0 1238.0L735.5 1238.0L737.0 1240.4L738.5 1238.0L741.5 1238.0L743.0 1235.6L744.5 1230.7L746.0 1233.1L755.0 1233.1L756.5 1230.7L761.0 1230.7L762.5 1228.2L770.0 1228.2L771.5 1225.8L773.0 1225.8L774.5 1223.4L776.0 1225.8L779.0 1225.8L780.5 1223.4L788.0 1223.4L789.5 1220.9L791.0 1220.9L792.5 1223.4L794.0 1223.4L795.5 1220.9L806.0 1220.9L807.5 1218.5L810.5 1218.5L812.0 1220.9L813.5 1218.5L815.0 1218.5L816.5 1216.0L818.0 1218.5L819.5 1216.0L821.0 1218.5L822.5 1218.5L824.0 1216.0L828.5 1216.0L830.0 1213.6L831.5 1216.0L839.0 1216.0L840.5 1218.5L842.0 1213.6L845.0 1213.6L846.5 1216.0L848.0 1213.6L849.5 1211.2L851.0 1208.7L857.0 1208.7L858.5 1206.3L860.0 1206.3L861.5 1208.7L863.0 1206.3L864.5 1203.9L866.0 1206.3L867.5 1206.3L869.0 1208.7L870.5 1208.7L872.0 1206.3L873.5 1203.9L875.0 1206.3L876.5 1201.4L878.0 1201.4L879.5 1203.9L881.0 1201.4L882.5 1199.0L884.0 1201.4L885.5 1199.0L890.0 1199.0L891.5 1201.4L893.0 1199.0L894.5 1201.4L896.0 1199.0L897.5 1201.4L899.0 1199.0"/>
<path stroke="#6667AE" stroke-width="9.5" d="M899.0 1199.0L900.5 1199.0L902.0 1196.5L903.5 1196.5L905.0 1194.1L906.5 1196.5L908.0 1194.1L909.5 1196.5L911.0 1196.5L912.5 1194.1L914.0 1191.7L915.5 1186.8L917.0 1181.9L918.5 1181.9L920.0 1184.4L929.0 1184.4L930.5 1181.9L932.0 1181.9L933.5 1179.5L944.0 1179.5L945.5 1181.9L950.0 1181.9L951.5 1179.5L953.0 1181.9L954.5 1179.5L956.0 1181.9L959.0 1181.9L960.5 1179.5L965.0 1179.5L966.5 1177.0L968.0 1179.5L971.0 1179.5L972.5 1174.6L974.0 1174.6L975.5 1177.0L977.0 1174.6L978.5 1172.2L980.0 1169.7L984.5 1169.7L986.0 1167.3L987.5 1169.7L989.0 1167.3L990.5 1167.3L992.0 1164.9L993.5 1167.3L996.5 1167.3L998.0 1164.9L999.5 1164.9L1001.0 1167.3L1002.5 1164.9L1004.0 1167.3L1005.5 1164.9L1007.0 1167.3L1010.0 1167.3L1011.5 1164.9L1013.0 1167.3L1019.0 1167.3L1020.5 1169.7L1022.0 1169.7L1023.5 1167.3L1026.5 1167.3L1028.0 1169.7L1029.5 1169.7L1031.0 1167.3L1040.0 1167.3L1041.5 1169.7L1043.0 1167.3L1044.5 1167.3L1046.0 1164.9L1047.5 1164.9L1049.0 1162.4L1050.5 1164.9L1052.0 1164.9L1053.5 1167.3L1055.0 1167.3L1056.5 1164.9L1058.0 1164.9L1059.5 1162.4L1061.0 1162.4L1062.5 1164.9L1065.5 1164.9L1067.0 1162.4L1068.5 1162.4L1070.0 1160.0L1076.0 1160.0L1077.5 1162.4L1079.0 1162.4L1080.5 1160.0L1089.5 1160.0L1091.0 1162.4L1098.5 1162.4L1100.0 1160.0L1101.5 1157.5L1103.0 1157.5L1104.5 1155.1L1107.5 1155.1L1109.0 1157.5L1110.5 1155.1L1112.0 1152.7L1113.5 1155.1L1115.0 1155.1L1116.5 1152.7L1118.0 1155.1L1119.5 1152.7L1121.0 1152.7L1122.5 1150.2L1127.0 1150.2L1128.5 1152.7L1130.0 1150.2L1131.5 1147.8L1133.0 1147.8L1134.5 1145.3L1136.0 1147.8L1137.5 1145.3L1139.0 1145.3L1140.5 1147.8L1143.5 1147.8L1145.0 1145.3L1146.5 1142.9L1148.0 1142.9L1149.5 1140.5L1152.5 1140.5L1154.0 1135.6L1157.0 1135.6L1158.5 1133.2L1160.0 1130.7L1161.5 1128.3L1163.0 1125.8L1164.5 1123.4L1166.0 1123.4L1167.5 1118.5L1170.5 1118.5L1172.0 1116.1L1179.5 1116.1L1181.0 1111.2L1182.5 1113.7L1184.0 1113.7L1185.5 1111.2L1188.5 1111.2L1190.0 1108.8L1191.5 1108.8L1193.0 1106.3L1194.5 1106.3L1196.0 1108.8L1197.5 1106.3L1200.5 1106.3L1202.0 1108.8L1203.5 1106.3L1205.0 1103.9L1206.5 1103.9L1208.0 1101.5L1212.5 1101.5L1214.0 1099.0L1217.0 1099.0L1218.5 1096.6L1220.0 1096.6L1221.5 1099.0L1223.0 1096.6L1224.5 1096.6L1226.0 1094.2L1229.0 1094.2L1230.5 1091.7L1232.0 1094.2L1233.5 1091.7L1236.5 1091.7L1238.0 1089.3L1239.5 1086.8L1242.5 1086.8L1244.0 1089.3L1245.5 1086.8L1247.0 1086.8L1248.5 1084.4L1250.0 1082.0L1251.5 1084.4L1254.5 1084.4L1256.0 1082.0L1257.5 1084.4L1259.0 1082.0L1260.5 1082.0L1262.0 1079.5L1265.0 1079.5L1266.5 1074.6L1268.0 1077.1L1272.5 1077.1L1274.0 1074.6L1275.5 1074.6L1277.0 1072.2L1278.5 1072.2L1280.0 1074.6L1281.5 1074.6L1283.0 1072.2L1284.5 1072.2L1286.0 1069.8L1287.5 1067.3L1289.0 1069.8L1290.5 1067.3L1293.5 1067.3L1295.0 1064.9"/>
<path stroke="#6667AE" stroke-width="11" d="M1295.0 1064.9L1301.0 1064.9L1302.5 1062.5L1304.0 1060.0L1305.5 1060.0L1307.0 1057.6L1308.5 1057.6L1310.0 1060.0L1311.5 1060.0L1313.0 1057.6L1314.5 1060.0L1316.0 1057.6L1317.5 1060.0L1319.0 1060.0L1320.5 1057.6L1322.0 1057.6L1323.5 1055.1L1325.0 1057.6L1328.0 1057.6L1329.5 1060.0L1332.5 1060.0L1334.0 1057.6L1335.5 1055.1L1337.0 1057.6L1338.5 1057.6L1340.0 1052.7L1341.5 1055.1L1343.0 1052.7L1344.5 1055.1L1346.0 1055.1L1347.5 1057.6L1349.0 1055.1L1350.5 1057.6L1352.0 1057.6L1353.5 1055.1L1355.0 1055.1L1356.5 1057.6L1358.0 1055.1L1359.5 1055.1L1361.0 1057.6L1362.5 1060.0L1364.0 1060.0L1365.5 1057.6L1367.0 1057.6L1368.5 1055.1L1371.5 1055.1L1373.0 1052.7L1374.5 1055.1L1385.0 1055.1L1386.5 1052.7L1394.0 1052.7L1395.5 1055.1L1398.5 1055.1L1400.0 1052.7L1404.5 1052.7L1406.0 1050.3L1412.0 1050.3L1413.5 1045.4L1415.0 1047.8L1416.5 1047.8L1418.0 1050.3L1419.5 1050.3L1421.0 1047.8L1425.5 1047.8L1427.0 1050.3L1428.5 1047.8L1430.0 1050.3L1431.5 1050.3L1433.0 1052.7L1434.5 1052.7L1436.0 1050.3L1437.5 1045.4L1439.0 1040.5L1442.0 1040.5L1443.5 1038.1L1445.0 1033.2L1446.5 1030.8L1448.0 1025.9L1449.5 1023.4L1451.0 1023.4L1452.5 1025.9L1454.0 1025.9L1455.5 1023.4L1457.0 1021.0L1464.5 1021.0L1466.0 1018.6L1467.5 1018.6L1469.0 1021.0L1470.5 1021.0L1472.0 1018.6L1475.0 1018.6L1476.5 1016.1L1478.0 1018.6L1479.5 1016.1L1481.0 1013.7L1482.5 1013.7L1484.0 1016.1L1485.5 1011.3L1490.0 1011.3L1491.5 1008.8L1493.0 1008.8L1494.5 1006.4L1496.0 1006.4L1497.5 1001.5L1499.0 999.1L1500.5 1001.5L1502.0 1001.5L1503.5 1003.9L1505.0 1003.9L1506.5 1006.4L1509.5 1006.4L1511.0 1003.9L1512.5 1008.8L1517.0 1008.8L1518.5 1006.4L1520.0 1008.8L1521.5 1006.4L1523.0 1006.4L1524.5 1008.8L1526.0 1006.4L1527.5 1003.9L1529.0 1001.5L1530.5 999.1L1532.0 994.2L1535.0 994.2L1536.5 991.8L1538.0 989.3L1539.5 986.9L1541.0 989.3L1542.5 989.3L1544.0 991.8L1545.5 994.2L1547.0 991.8L1548.5 991.8L1550.0 994.2L1551.5 994.2L1553.0 996.6L1554.5 994.2L1565.0 994.2L1566.5 996.6L1568.0 994.2L1569.5 991.8L1572.5 991.8L1574.0 989.3L1575.5 986.9L1578.5 986.9L1580.0 984.4L1584.5 984.4L1586.0 986.9L1587.5 986.9L1589.0 984.4L1590.5 982.0L1592.0 982.0L1593.5 979.6L1595.0 982.0L1596.5 982.0L1598.0 979.6L1599.5 979.6L1601.0 977.1L1602.5 974.7L1607.0 974.7L1608.5 972.2L1611.5 972.2L1613.0 969.8L1614.5 967.4L1616.0 964.9L1619.0 964.9L1620.5 967.4L1625.0 967.4L1626.5 964.9L1628.0 962.5L1629.5 962.5L1631.0 964.9L1632.5 964.9L1634.0 962.5L1635.5 960.1L1637.0 957.6L1638.5 957.6L1640.0 955.2L1641.5 952.7L1643.0 950.3L1644.5 952.7L1646.0 955.2L1647.5 952.7L1649.0 952.7L1650.5 955.2L1652.0 955.2L1653.5 950.3L1655.0 947.9L1656.5 947.9L1658.0 945.4L1659.5 943.0L1661.0 943.0L1662.5 940.6L1665.5 940.6L1667.0 943.0L1668.5 945.4L1670.0 945.4L1671.5 950.3L1673.0 947.9L1679.0 947.9L1680.5 945.4L1683.5 945.4L1685.0 940.6L1688.0 940.6L1689.5 938.1L1691.0 933.2L1692.5 930.8L1694.0 928.4L1698.5 928.4L1700.0 925.9L1701.5 923.5L1706.0 923.5L1707.5 925.9L1709.0 925.9L1710.5 923.5L1712.0 925.9L1713.5 925.9L1715.0 923.5L1716.5 923.5L1718.0 921.1L1719.5 921.1L1721.0 916.2L1724.0 916.2L1725.5 913.7L1727.0 911.3L1730.0 911.3L1731.5 908.9L1734.5 908.9"/>
<path stroke="#3D467A" stroke-width="7" d="M219.5 1277.0L239.0 1277.0L240.5 1274.6L285.5 1274.6L287.0 1272.1L306.5 1272.1L308.0 1269.7L318.5 1269.7L320.0 1267.2L327.5 1267.2L329.0 1264.8"/>
<path stroke="#3D467A" stroke-width="8.5" d="M329.0 1264.8L330.5 1264.8L332.0 1262.4L335.0 1262.4L336.5 1259.9L339.5 1259.9L341.0 1257.5L342.5 1259.9L344.0 1257.5L347.0 1257.5L348.5 1255.1L350.0 1255.1L351.5 1252.6L353.0 1255.1L354.5 1252.6L356.0 1257.5L357.5 1255.1L359.0 1252.6L360.5 1252.6L362.0 1255.1L363.5 1257.5L368.0 1257.5L369.5 1259.9L372.5 1259.9L374.0 1257.5L378.5 1257.5L380.0 1255.1L381.5 1255.1L383.0 1257.5L384.5 1255.1L386.0 1255.1L387.5 1252.6L390.5 1252.6L392.0 1250.2L393.5 1250.2L395.0 1252.6L396.5 1252.6L398.0 1250.2L401.0 1250.2L402.5 1247.7L404.0 1247.7L405.5 1245.3L407.0 1245.3L408.5 1242.9L410.0 1242.9L411.5 1238.0L414.5 1238.0L416.0 1240.4L417.5 1238.0L419.0 1235.6L420.5 1235.6L422.0 1238.0L423.5 1235.6L425.0 1238.0L426.5 1240.4L428.0 1238.0L432.5 1238.0L434.0 1235.6L435.5 1233.1L437.0 1235.6L438.5 1235.6L440.0 1233.1L441.5 1233.1L443.0 1230.7L444.5 1230.7L446.0 1228.2L449.0 1228.2L450.5 1230.7L452.0 1228.2L453.5 1230.7L455.0 1230.7L456.5 1228.2L458.0 1230.7L459.5 1228.2L461.0 1228.2L462.5 1225.8L464.0 1223.4L467.0 1223.4L468.5 1220.9L470.0 1223.4L471.5 1223.4L473.0 1220.9L474.5 1220.9L476.0 1223.4L477.5 1218.5L479.0 1220.9L480.5 1218.5L482.0 1220.9L483.5 1218.5L485.0 1218.5L486.5 1216.0L488.0 1218.5L489.5 1216.0L491.0 1213.6L492.5 1216.0L494.0 1216.0L495.5 1213.6L497.0 1213.6L498.5 1211.2L500.0 1211.2L501.5 1208.7L503.0 1206.3L504.5 1203.9L506.0 1201.4L509.0 1201.4L510.5 1199.0L512.0 1196.5L513.5 1196.5L515.0 1199.0L516.5 1196.5L518.0 1194.1L519.5 1191.7L521.0 1186.8L522.5 1186.8L524.0 1184.4L525.5 1184.4L527.0 1179.5L528.5 1179.5L530.0 1177.0L531.5 1177.0L533.0 1174.6L534.5 1174.6L536.0 1169.7L539.0 1169.7L540.5 1172.2L542.0 1169.7L543.5 1169.7L545.0 1167.3L546.5 1169.7L548.0 1167.3L549.5 1164.9L551.0 1164.9L552.5 1162.4L558.5 1162.4L560.0 1160.0L569.0 1160.0L570.5 1162.4L573.5 1162.4L575.0 1164.9L576.5 1160.0L578.0 1157.5L582.5 1157.5L584.0 1155.1L585.5 1152.7L587.0 1152.7L588.5 1155.1L590.0 1152.7L591.5 1150.2L593.0 1150.2L594.5 1152.7L596.0 1150.2L597.5 1150.2L599.0 1152.7L600.5 1152.7L602.0 1150.2L603.5 1147.8L605.0 1145.3L608.0 1145.3L609.5 1142.9L614.0 1142.9L615.5 1145.3L617.0 1142.9L620.0 1142.9L621.5 1140.5L623.0 1140.5L624.5 1138.0L626.0 1135.6L627.5 1138.0L629.0 1135.6L630.5 1138.0L635.0 1138.0L636.5 1133.2L638.0 1135.6L639.5 1135.6L641.0 1138.0L642.5 1138.0L644.0 1133.2L645.5 1130.7L647.0 1130.7L648.5 1133.2L650.0 1133.2L651.5 1135.6L653.0 1135.6L654.5 1133.2L656.0 1133.2L657.5 1130.7L659.0 1130.7L660.5 1128.3L663.5 1128.3L665.0 1130.7L666.5 1125.8L672.5 1125.8L674.0 1123.4L675.5 1121.0L677.0 1118.5L678.5 1121.0L680.0 1121.0L681.5 1118.5L683.0 1118.5L684.5 1121.0L686.0 1116.1L687.5 1113.7L690.5 1113.7L692.0 1111.2L695.0 1111.2L696.5 1108.8L698.0 1103.9"/>
<path stroke="#3D467A" stroke-width="9.5" d="M698.0 1103.9L701.0 1103.9L702.5 1106.3L704.0 1101.5L705.5 1103.9L707.0 1106.3L708.5 1103.9L711.5 1103.9L713.0 1101.5L716.0 1101.5L717.5 1096.6L719.0 1096.6L720.5 1091.7L722.0 1091.7L723.5 1089.3L725.0 1086.8L726.5 1084.4L728.0 1079.5L729.5 1074.6L731.0 1074.6L732.5 1072.2L734.0 1072.2L735.5 1067.3L737.0 1064.9L738.5 1062.5L740.0 1062.5L741.5 1057.6L743.0 1057.6L744.5 1055.1L746.0 1055.1L747.5 1050.3L750.5 1050.3L752.0 1047.8L753.5 1045.4L755.0 1040.5L756.5 1043.0L758.0 1038.1L759.5 1035.6L761.0 1030.8L762.5 1025.9L764.0 1023.4L765.5 1023.4L767.0 1021.0L768.5 1021.0L770.0 1016.1L771.5 1013.7L773.0 1013.7L774.5 1011.3L776.0 1008.8L777.5 1008.8L779.0 1006.4L780.5 1006.4L782.0 1003.9L783.5 1001.5L785.0 1003.9L786.5 1001.5L788.0 1003.9L789.5 1003.9L791.0 1001.5L792.5 1003.9L794.0 1006.4L795.5 1006.4L797.0 1003.9L801.5 1003.9L803.0 1001.5L804.5 1003.9L806.0 1003.9L807.5 1006.4L809.0 1006.4L810.5 1001.5L812.0 999.1L813.5 999.1L815.0 994.2L816.5 994.2L818.0 989.3L819.5 986.9L821.0 984.4L822.5 984.4L824.0 982.0L825.5 982.0L827.0 979.6L828.5 977.1L831.5 977.1L833.0 974.7L834.5 977.1L836.0 974.7L837.5 977.1L839.0 974.7L840.5 974.7L842.0 972.2L843.5 964.9L845.0 962.5L846.5 964.9L848.0 964.9L849.5 960.1L851.0 955.2L852.5 950.3L854.0 950.3L855.5 947.9L857.0 947.9L858.5 945.4L860.0 945.4L861.5 947.9L863.0 943.0L864.5 940.6L866.0 940.6L867.5 938.1L869.0 938.1L870.5 935.7L872.0 933.2L873.5 933.2L875.0 930.8L876.5 928.4L878.0 928.4L879.5 923.5"/>
<path stroke="#3D467A" stroke-width="11" d="M879.5 923.5L885.5 923.5L887.0 918.6L888.5 918.6L890.0 913.7L891.5 908.9L893.0 908.9L894.5 906.4L897.5 906.4L899.0 901.5L902.0 901.5L903.5 896.7L905.0 899.1L906.5 896.7L909.5 896.7L911.0 894.2L912.5 889.4L914.0 889.4L915.5 884.5L917.0 882.0L918.5 879.6L920.0 877.2L921.5 874.7L923.0 872.3L924.5 867.4L926.0 865.0L927.5 862.5L929.0 862.5L930.5 857.7L932.0 852.8L933.5 852.8L935.0 850.3L936.5 850.3L938.0 845.5L939.5 845.5L941.0 843.0L945.5 843.0L947.0 838.2L948.5 838.2L950.0 833.3L953.0 833.3L954.5 830.8L957.5 830.8L959.0 828.4L960.5 828.4L962.0 826.0L963.5 821.1L965.0 823.5L966.5 823.5L968.0 828.4L969.5 823.5L971.0 823.5L972.5 828.4L974.0 826.0L975.5 826.0L977.0 830.8L978.5 828.4L981.5 828.4L983.0 826.0L984.5 826.0L986.0 823.5L990.5 823.5L992.0 826.0L993.5 823.5L995.0 823.5L996.5 821.1L998.0 816.2L999.5 811.3"/>
<path stroke="#3D467A" stroke-width="12.5" d="M999.5 811.3L1001.0 813.8L1002.5 811.3L1004.0 808.9L1005.5 806.5L1007.0 804.0L1011.5 804.0L1013.0 801.6L1014.5 799.2L1023.5 799.2L1025.0 794.3L1026.5 789.4L1028.0 784.5L1029.5 782.1L1031.0 782.1L1032.5 779.6L1034.0 777.2L1035.5 782.1L1037.0 777.2L1038.5 774.8L1040.0 777.2L1041.5 779.6L1043.0 782.1L1044.5 782.1L1046.0 787.0L1049.0 787.0L1050.5 784.5L1052.0 782.1L1055.0 782.1L1056.5 779.6L1058.0 777.2L1059.5 774.8L1061.0 774.8L1062.5 769.9L1064.0 767.5L1065.5 762.6L1067.0 760.1L1068.5 757.7L1070.0 755.3L1071.5 752.8L1073.0 750.4L1077.5 750.4L1079.0 748.0L1080.5 750.4L1082.0 748.0L1083.5 745.5L1085.0 743.1L1086.5 743.1L1088.0 740.6L1089.5 738.2L1091.0 738.2L1092.5 740.6L1094.0 743.1L1095.5 740.6L1097.0 740.6L1098.5 735.8L1100.0 733.3L1101.5 728.4L1103.0 726.0L1106.0 726.0L1107.5 728.4L1109.0 730.9L1115.0 730.9L1116.5 726.0L1118.0 723.6L1119.5 723.6L1121.0 721.1L1122.5 718.7L1124.0 716.3L1125.5 711.4L1127.0 713.8L1130.0 713.8L1131.5 716.3L1134.5 716.3L1136.0 718.7L1137.5 716.3L1139.0 716.3L1140.5 718.7L1142.0 718.7L1143.5 721.1L1145.0 718.7L1146.5 716.3L1152.5 716.3L1154.0 711.4L1155.5 711.4L1157.0 708.9L1158.5 711.4L1160.0 708.9L1161.5 708.9L1163.0 704.1L1164.5 704.1L1166.0 699.2L1167.5 689.4L1169.0 682.1L1170.5 679.7L1172.0 677.3L1173.5 669.9L1175.0 667.5L1176.5 665.1L1178.0 662.6L1179.5 660.2L1181.0 657.7L1182.5 660.2L1184.0 662.6L1185.5 665.1L1188.5 665.1L1190.0 662.6L1191.5 665.1L1193.0 662.6L1194.5 657.7L1196.0 657.7L1197.5 655.3L1200.5 655.3L1202.0 652.9L1205.0 652.9L1206.5 648.0L1208.0 643.1L1209.5 643.1L1211.0 640.7L1212.5 638.2L1214.0 638.2L1215.5 635.8L1217.0 633.4L1218.5 626.1L1220.0 623.6L1221.5 618.7L1223.0 616.3L1224.5 616.3L1226.0 613.9L1229.0 613.9L1230.5 616.3L1232.0 613.9L1233.5 616.3L1235.0 616.3L1236.5 618.7L1238.0 621.2L1239.5 621.2L1241.0 616.3L1242.5 613.9L1244.0 611.4L1250.0 611.4L1251.5 609.0L1253.0 609.0L1254.5 604.1L1256.0 601.7L1257.5 596.8L1259.0 594.4L1260.5 591.9L1262.0 589.5L1269.5 589.5L1271.0 587.0L1272.5 587.0L1274.0 582.2L1275.5 582.2L1277.0 579.7L1278.5 577.3L1280.0 572.4L1281.5 567.5L1283.0 560.2L1284.5 557.8L1286.0 555.4L1287.5 550.5L1289.0 548.0L1290.5 545.6L1292.0 543.2L1293.5 540.7L1295.0 535.8L1296.5 540.7L1298.0 543.2L1299.5 545.6L1301.0 548.0L1302.5 550.5L1304.0 552.9L1305.5 548.0L1307.0 548.0L1308.5 545.6L1310.0 543.2L1311.5 540.7L1313.0 535.8L1314.5 531.0L1319.0 531.0L1320.5 526.1L1323.5 526.1L1325.0 523.7L1326.5 521.2L1328.0 521.2L1329.5 516.3L1332.5 516.3L1334.0 513.9L1335.5 511.5L1337.0 509.0L1338.5 506.6L1340.0 506.6L1341.5 509.0L1343.0 506.6L1344.5 504.2L1346.0 504.2L1347.5 501.7L1349.0 496.8L1350.5 499.3L1352.0 501.7L1355.0 501.7L1356.5 504.2L1358.0 501.7L1359.5 506.6L1361.0 509.0L1362.5 511.5L1364.0 509.0L1365.5 509.0L1367.0 511.5L1368.5 511.5L1370.0 513.9L1371.5 509.0L1373.0 511.5L1374.5 509.0L1376.0 509.0L1377.5 511.5L1379.0 509.0L1380.5 506.6L1382.0 501.7L1385.0 501.7L1386.5 504.2L1388.0 501.7L1389.5 499.3L1391.0 492.0L1392.5 484.6L1395.5 484.6L1397.0 479.8L1398.5 477.3L1400.0 472.5L1401.5 470.0L1403.0 467.6L1404.5 467.6L1406.0 470.0L1407.5 465.1L1409.0 462.7L1410.5 460.3L1412.0 457.8L1413.5 453.0L1415.0 450.5L1416.5 448.1L1418.0 448.1L1419.5 443.2L1421.0 440.8L1422.5 440.8L1424.0 438.3L1427.0 438.3L1428.5 435.9L1430.0 431.0L1431.5 431.0L1433.0 426.1L1434.5 426.1L1436.0 423.7L1437.5 418.8L1439.0 416.4L1440.5 413.9L1442.0 409.1L1443.5 413.9L1445.0 413.9L1446.5 416.4L1448.0 421.3L1449.5 426.1L1451.0 428.6L1452.5 431.0L1454.0 433.5L1455.5 433.5L1457.0 431.0L1458.5 428.6L1460.0 428.6L1461.5 426.1L1463.0 428.6L1464.5 421.3L1466.0 421.3L1467.5 418.8L1469.0 418.8L1470.5 416.4L1472.0 413.9L1473.5 411.5L1475.0 409.1L1476.5 409.1L1478.0 406.6L1479.5 404.2L1481.0 404.2L1482.5 399.3L1484.0 396.9L1485.5 392.0L1487.0 394.4L1488.5 392.0L1490.0 389.6L1491.5 389.6L1493.0 384.7L1494.5 387.1L1496.0 389.6L1497.5 392.0L1500.5 392.0L1502.0 394.4L1503.5 392.0L1505.0 389.6L1506.5 392.0L1508.0 389.6L1511.0 389.6L1512.5 387.1L1515.5 387.1L1517.0 384.7L1518.5 384.7L1520.0 379.8L1521.5 379.8L1523.0 377.4L1524.5 377.4L1526.0 372.5L1529.0 372.5L1530.5 370.1L1532.0 372.5L1533.5 367.6L1535.0 367.6L1536.5 362.7L1538.0 362.7L1539.5 360.3L1541.0 355.4L1542.5 350.6L1544.0 348.1L1547.0 348.1L1548.5 345.7L1550.0 345.7L1551.5 343.2L1553.0 343.2L1554.5 345.7L1560.5 345.7L1562.0 343.2L1563.5 340.8L1565.0 338.4L1566.5 335.9L1568.0 333.5L1569.5 331.1L1571.0 328.6L1577.0 328.6L1578.5 326.2L1581.5 326.2L1583.0 323.7L1587.5 323.7L1589.0 321.3L1590.5 318.9L1592.0 314.0L1593.5 311.6L1598.0 311.6L1599.5 314.0L1601.0 314.0L1602.5 316.4L1604.0 321.3L1605.5 323.7L1607.0 323.7L1608.5 321.3L1610.0 321.3L1611.5 318.9L1616.0 318.9L1617.5 314.0L1619.0 311.6L1620.5 309.1L1622.0 306.7L1623.5 301.8L1625.0 299.4L1626.5 296.9L1628.0 294.5L1631.0 294.5L1632.5 296.9L1634.0 301.8L1635.5 304.2L1637.0 306.7L1638.5 309.1L1640.0 304.2L1641.5 301.8L1643.0 294.5L1644.5 296.9L1646.0 299.4L1647.5 304.2L1649.0 304.2L1650.5 306.7L1652.0 309.1L1653.5 311.6L1655.0 309.1L1656.5 304.2L1658.0 301.8L1659.5 301.8L1661.0 299.4L1662.5 296.9L1664.0 294.5L1665.5 289.6L1667.0 292.0L1668.5 289.6L1670.0 289.6L1671.5 287.2L1673.0 284.7L1676.0 284.7L1677.5 287.2L1679.0 284.7L1680.5 284.7L1682.0 287.2L1683.5 289.6L1685.0 294.5L1686.5 296.9L1688.0 296.9L1689.5 304.2L1691.0 306.7L1692.5 311.6L1694.0 304.2L1695.5 304.2L1697.0 301.8L1698.5 296.9L1700.0 296.9L1701.5 292.0L1703.0 292.0L1704.5 294.5L1707.5 294.5L1709.0 292.0L1710.5 287.2L1712.0 284.7L1713.5 282.3L1715.0 279.9L1716.5 277.4L1721.0 277.4L1722.5 275.0L1724.0 267.7L1725.5 265.2L1727.0 265.2L1728.5 260.4L1730.0 257.9L1731.5 255.5L1733.0 250.6L1734.5 250.6"/>
<path stroke="#E8D030" stroke-width="7" d="M219.5 1277.0L558.5 1277.0L560.0 1274.6L561.5 1272.1L563.0 1272.1L564.5 1269.7L566.0 1269.7L567.5 1267.2L569.0 1267.2L570.5 1264.8L572.0 1267.2L573.5 1264.8L575.0 1264.8L576.5 1262.4L590.0 1262.4L591.5 1259.9L593.0 1262.4L596.0 1262.4L597.5 1259.9L602.0 1259.9L603.5 1257.5L611.0 1257.5L612.5 1259.9L614.0 1257.5L624.5 1257.5L626.0 1259.9L627.5 1255.1L629.0 1257.5L630.5 1255.1L641.0 1255.1L642.5 1257.5L644.0 1255.1L645.5 1255.1L647.0 1252.6L648.5 1255.1L651.5 1255.1L653.0 1252.6L654.5 1255.1L656.0 1252.6L659.0 1252.6L660.5 1255.1L662.0 1252.6L663.5 1252.6L665.0 1250.2L666.5 1252.6L672.5 1252.6L674.0 1250.2L675.5 1245.3L677.0 1242.9L678.5 1245.3L680.0 1242.9L681.5 1245.3L683.0 1245.3L684.5 1242.9L686.0 1245.3L687.5 1245.3L689.0 1242.9L693.5 1242.9L695.0 1240.4L698.0 1240.4L699.5 1242.9"/>
<path stroke="#E8D030" stroke-width="7.8" d="M699.5 1242.9L701.0 1240.4L702.5 1240.4L704.0 1242.9L705.5 1240.4L707.0 1240.4L708.5 1242.9L710.0 1240.4L713.0 1240.4L714.5 1238.0L720.5 1238.0L722.0 1235.6L735.5 1235.6L737.0 1238.0L738.5 1235.6L740.0 1235.6L741.5 1233.1L746.0 1233.1L747.5 1235.6L749.0 1233.1L750.5 1235.6L752.0 1233.1L755.0 1233.1L756.5 1230.7L758.0 1230.7L759.5 1233.1L764.0 1233.1L765.5 1230.7L767.0 1233.1L768.5 1230.7L770.0 1233.1L771.5 1230.7L773.0 1233.1L779.0 1233.1L780.5 1228.2L782.0 1228.2L783.5 1225.8L788.0 1225.8L789.5 1223.4L791.0 1223.4L792.5 1225.8L794.0 1223.4L795.5 1223.4L797.0 1225.8L798.5 1223.4L800.0 1220.9L801.5 1223.4L803.0 1223.4L804.5 1225.8L806.0 1223.4L807.5 1225.8L810.5 1225.8L812.0 1223.4L813.5 1225.8L815.0 1225.8L816.5 1223.4L819.5 1223.4L821.0 1225.8L822.5 1223.4L831.5 1223.4L833.0 1220.9L834.5 1223.4L839.0 1223.4L840.5 1220.9L845.0 1220.9L846.5 1218.5L848.0 1218.5L849.5 1220.9L854.0 1220.9L855.5 1218.5L857.0 1218.5L858.5 1220.9L860.0 1218.5L861.5 1218.5L863.0 1216.0L864.5 1218.5L867.5 1218.5L869.0 1220.9L870.5 1218.5L873.5 1218.5L875.0 1216.0L876.5 1216.0L878.0 1218.5L888.5 1218.5L890.0 1220.9L891.5 1218.5L896.0 1218.5L897.5 1220.9L899.0 1218.5L905.0 1218.5L906.5 1216.0L911.0 1216.0L912.5 1218.5L914.0 1218.5L915.5 1220.9L917.0 1218.5L918.5 1216.0L920.0 1218.5L923.0 1218.5L924.5 1216.0L926.0 1216.0L927.5 1213.6L929.0 1216.0L930.5 1213.6L933.5 1213.6L935.0 1216.0L936.5 1213.6L938.0 1213.6L939.5 1211.2L942.5 1211.2L944.0 1208.7L945.5 1208.7L947.0 1211.2L948.5 1211.2L950.0 1208.7L954.5 1208.7L956.0 1206.3L957.5 1206.3L959.0 1203.9L962.0 1203.9L963.5 1201.4L965.0 1199.0L968.0 1199.0L969.5 1201.4L971.0 1196.5L972.5 1194.1L974.0 1191.7L975.5 1189.2L977.0 1189.2L978.5 1191.7L981.5 1191.7L983.0 1189.2L986.0 1189.2L987.5 1186.8L989.0 1189.2L1001.0 1189.2L1002.5 1191.7L1004.0 1189.2L1005.5 1191.7L1007.0 1189.2L1008.5 1186.8L1010.0 1186.8L1011.5 1189.2L1013.0 1186.8L1014.5 1186.8L1016.0 1189.2L1017.5 1189.2L1019.0 1186.8L1023.5 1186.8L1025.0 1184.4L1028.0 1184.4L1029.5 1181.9L1040.0 1181.9L1041.5 1179.5L1043.0 1179.5L1044.5 1177.0L1046.0 1177.0L1047.5 1174.6L1050.5 1174.6L1052.0 1172.2L1053.5 1167.3L1055.0 1167.3L1056.5 1169.7L1058.0 1169.7L1059.5 1167.3L1061.0 1169.7L1062.5 1169.7L1064.0 1167.3L1065.5 1167.3L1067.0 1164.9L1068.5 1162.4L1071.5 1162.4L1073.0 1160.0L1074.5 1160.0L1076.0 1157.5L1077.5 1155.1L1079.0 1152.7L1080.5 1155.1L1082.0 1155.1L1083.5 1150.2L1085.0 1152.7L1086.5 1152.7L1088.0 1150.2L1091.0 1150.2L1092.5 1147.8L1100.0 1147.8L1101.5 1145.3L1103.0 1142.9L1104.5 1145.3L1106.0 1145.3L1107.5 1142.9L1109.0 1140.5L1110.5 1138.0L1112.0 1135.6L1115.0 1135.6L1116.5 1138.0L1118.0 1135.6L1119.5 1135.6L1121.0 1133.2L1122.5 1133.2L1124.0 1135.6L1125.5 1135.6L1127.0 1133.2L1130.0 1133.2L1131.5 1130.7L1133.0 1130.7L1134.5 1128.3L1136.0 1130.7L1137.5 1130.7L1139.0 1128.3L1140.5 1130.7L1142.0 1128.3L1143.5 1128.3L1145.0 1130.7L1148.0 1130.7L1149.5 1128.3L1151.0 1128.3L1152.5 1130.7L1154.0 1128.3L1155.5 1128.3L1157.0 1125.8L1158.5 1125.8L1160.0 1128.3L1161.5 1125.8L1164.5 1125.8L1166.0 1128.3L1167.5 1125.8L1169.0 1125.8L1170.5 1123.4L1172.0 1125.8L1173.5 1123.4L1176.5 1123.4L1178.0 1121.0L1179.5 1121.0L1181.0 1118.5L1182.5 1121.0L1185.5 1121.0L1187.0 1118.5L1191.5 1118.5L1193.0 1116.1L1194.5 1116.1L1196.0 1113.7L1197.5 1113.7L1199.0 1111.2"/>
<path stroke="#E8D030" stroke-width="8.5" d="M1199.0 1111.2L1205.0 1111.2L1206.5 1108.8L1208.0 1106.3L1209.5 1108.8L1212.5 1108.8L1214.0 1103.9L1215.5 1103.9L1217.0 1106.3L1218.5 1103.9L1220.0 1103.9L1221.5 1101.5L1223.0 1103.9L1224.5 1101.5L1227.5 1101.5L1229.0 1099.0L1230.5 1099.0L1232.0 1096.6L1236.5 1096.6L1238.0 1099.0L1239.5 1096.6L1241.0 1094.2L1244.0 1094.2L1245.5 1091.7L1247.0 1091.7L1248.5 1094.2L1250.0 1091.7L1251.5 1091.7L1253.0 1089.3L1259.0 1089.3L1260.5 1086.8L1263.5 1086.8L1265.0 1084.4L1268.0 1084.4L1269.5 1082.0L1271.0 1084.4L1272.5 1084.4L1274.0 1082.0L1278.5 1082.0L1280.0 1079.5L1283.0 1079.5L1284.5 1077.1L1286.0 1079.5L1289.0 1079.5L1290.5 1077.1L1292.0 1079.5L1293.5 1079.5L1295.0 1082.0L1296.5 1079.5L1298.0 1079.5L1299.5 1077.1L1304.0 1077.1L1305.5 1074.6L1308.5 1074.6L1310.0 1072.2L1311.5 1072.2L1313.0 1074.6L1314.5 1074.6L1316.0 1072.2L1317.5 1069.8L1319.0 1067.3L1320.5 1067.3L1322.0 1062.5L1323.5 1064.9L1325.0 1062.5L1326.5 1060.0L1328.0 1057.6L1329.5 1052.7L1331.0 1052.7L1332.5 1050.3L1334.0 1050.3L1335.5 1047.8L1338.5 1047.8L1340.0 1045.4L1341.5 1040.5L1343.0 1040.5L1344.5 1038.1L1346.0 1035.6L1347.5 1035.6L1349.0 1033.2L1350.5 1030.8L1352.0 1028.3L1353.5 1028.3L1355.0 1025.9L1356.5 1023.4L1358.0 1025.9L1359.5 1023.4L1361.0 1023.4L1362.5 1021.0L1364.0 1023.4L1365.5 1021.0L1367.0 1018.6L1368.5 1016.1L1370.0 1013.7L1377.5 1013.7L1379.0 1011.3L1380.5 1011.3L1382.0 1008.8L1383.5 1006.4L1385.0 1008.8L1388.0 1008.8L1389.5 1006.4L1392.5 1006.4L1394.0 1003.9L1395.5 999.1L1397.0 999.1L1398.5 996.6L1400.0 996.6L1401.5 994.2L1407.5 994.2L1409.0 996.6L1410.5 994.2L1412.0 996.6L1413.5 996.6L1415.0 994.2L1416.5 991.8L1418.0 994.2L1419.5 991.8L1421.0 991.8L1422.5 994.2L1424.0 994.2L1425.5 991.8L1428.5 991.8L1430.0 994.2L1439.0 994.2L1440.5 991.8L1443.5 991.8L1445.0 986.9L1446.5 989.3L1449.5 989.3"/>
<path stroke="#E8D030" stroke-width="9.2" d="M1449.5 989.3L1451.0 986.9L1452.5 986.9L1454.0 984.4L1458.5 984.4L1460.0 982.0L1461.5 982.0L1463.0 979.6L1464.5 977.1L1469.0 977.1L1470.5 974.7L1472.0 972.2L1473.5 972.2L1475.0 967.4L1476.5 969.8L1478.0 969.8L1479.5 967.4L1484.0 967.4L1485.5 964.9L1488.5 964.9L1490.0 962.5L1499.0 962.5L1500.5 960.1L1502.0 957.6L1506.5 957.6L1508.0 955.2L1511.0 955.2L1512.5 952.7L1515.5 952.7L1517.0 950.3L1520.0 950.3L1521.5 947.9L1523.0 947.9L1524.5 945.4L1526.0 943.0L1532.0 943.0L1533.5 940.6L1535.0 938.1L1536.5 935.7L1538.0 935.7L1539.5 930.8L1541.0 930.8L1542.5 928.4L1544.0 928.4L1545.5 923.5L1547.0 923.5L1548.5 921.1L1550.0 921.1L1551.5 918.6L1553.0 918.6L1554.5 916.2L1556.0 916.2L1557.5 913.7L1559.0 913.7L1560.5 911.3L1562.0 911.3L1563.5 908.9L1565.0 911.3L1566.5 908.9L1568.0 904.0L1575.5 904.0L1577.0 901.5L1578.5 899.1L1584.5 899.1L1586.0 896.7L1587.5 896.7L1589.0 894.2L1592.0 894.2L1593.5 889.4L1595.0 889.4L1596.5 886.9L1598.0 886.9L1599.5 884.5L1601.0 882.0L1602.5 882.0L1604.0 879.6L1605.5 882.0L1607.0 882.0L1608.5 879.6L1610.0 879.6L1611.5 877.2L1616.0 877.2L1617.5 874.7L1619.0 874.7L1620.5 872.3L1622.0 869.9L1625.0 869.9L1626.5 865.0L1628.0 865.0L1629.5 862.5L1631.0 860.1L1632.5 862.5L1634.0 860.1L1635.5 857.7L1637.0 855.2L1638.5 852.8L1640.0 850.3L1641.5 845.5L1643.0 843.0L1644.5 840.6L1646.0 840.6L1647.5 843.0L1649.0 840.6L1650.5 843.0L1652.0 840.6L1655.0 840.6L1656.5 838.2L1658.0 835.7L1659.5 833.3L1661.0 833.3L1662.5 830.8L1664.0 830.8L1665.5 826.0L1670.0 826.0L1671.5 823.5L1673.0 821.1L1677.5 821.1L1679.0 818.7L1680.5 821.1L1682.0 818.7L1683.5 816.2L1686.5 816.2L1688.0 813.8L1689.5 806.5L1691.0 804.0L1692.5 801.6L1695.5 801.6L1697.0 804.0L1698.5 801.6L1700.0 799.2L1703.0 799.2L1704.5 796.7L1706.0 794.3L1707.5 791.8L1722.5 791.8L1724.0 789.4L1730.0 789.4L1731.5 787.0L1734.5 787.0"/>
<path stroke="#DCC800" stroke-width="7" d="M219.5 1276.8L1734.5 1276.8"/>
<path stroke="#7F00FF" stroke-width="7.5" d="M235.4 1273.7L237.0 1272.8M255.9 1255.7L259.0 1252.2L262.1 1248.7L265.2 1245.0M280.5 1226.4L283.6 1222.6L286.6 1218.9L289.7 1215.2M306.6 1194.5L310.0 1190.1L313.4 1185.5L316.8 1180.8M331.1 1159.5L334.5 1154.0L338.0 1148.4L341.4 1142.4M351.7 1123.7L355.0 1117.8L358.4 1112.3L361.7 1106.9L365.0 1101.7L368.4 1096.5L371.7 1091.3L375.0 1085.9L378.4 1080.5M389.8 1061.3L393.0 1055.5L396.2 1049.4L399.5 1042.9M410.4 1019.8L413.5 1013.2L416.7 1006.6L419.9 1000.1M429.2 980.8L432.8 973.9L436.3 967.1L439.8 960.5M449.7 942.8L453.4 936.3L457.0 929.7L460.7 923.2M471.9 903.1L475.7 895.8L479.5 888.2M491.5 863.3L494.8 856.5L498.2 849.7L501.5 843.0L504.8 836.2L508.2 829.4M518.6 808.6L522.0 802.2L525.3 796.1L528.7 790.3M538.8 773.6L542.3 767.9L545.8 762.1L549.3 756.3L552.8 750.4M562.4 734.2L565.6 728.7L568.8 723.2L571.9 717.5L575.1 711.7M583.7 696.1L587.3 689.7L590.9 683.7L594.5 677.8M605.6 660.2L609.2 654.8L612.8 649.5L616.3 644.4L619.9 639.4M631.1 624.3L634.5 619.7L637.9 615.0L641.3 610.2L644.7 605.3M659.2 584.2L662.5 579.5L665.9 574.9L669.2 570.3L672.6 565.8M682.8 552.4L686.4 548.0L689.9 543.6L693.5 539.3L697.0 535.2L700.6 531.0M713.1 517.2L716.1 514.0L719.1 510.8L722.2 507.7L725.2 504.6M741.5 489.1L744.7 486.1L747.9 483.1L751.2 480.1L754.4 477.1M773.4 460.2L776.9 457.2L780.4 454.2L783.9 451.1L787.3 448.1L790.8 445.0L794.3 441.9M813.7 425.4L817.2 422.9L820.6 420.6L824.0 418.4M844.1 407.0L847.7 405.0L851.3 402.9L855.0 400.8M874.9 389.4L878.2 387.5L881.5 385.6L884.8 383.7L888.0 381.6M906.9 370.0L910.4 368.0L913.9 366.1L917.4 364.3L920.9 362.5M941.0 353.1L944.2 351.7L947.4 350.3L950.6 348.8L953.7 347.4L956.9 346.0L960.1 344.5L963.3 343.1L966.5 341.7M989.8 331.6L993.4 330.1L997.0 328.5L1000.6 327.0L1004.1 325.4L1007.7 323.8M1028.5 314.7L1031.8 313.4L1035.0 312.1L1038.3 311.0L1041.6 309.9M1061.0 303.8L1064.1 302.9L1067.2 301.9L1070.3 300.9L1073.4 299.9M1096.5 292.5L1099.6 291.5L1102.8 290.4L1105.9 289.4L1109.0 288.4L1112.1 287.3M1130.9 280.8L1134.1 279.8L1137.4 278.8L1140.6 277.9L1143.8 277.0L1147.0 276.2L1150.3 275.4L1153.5 274.6M1173.6 270.2L1176.8 269.4L1180.0 268.7L1183.2 267.9L1186.3 267.0L1189.5 266.2M1208.6 260.9L1212.0 260.0L1215.3 259.1L1218.7 258.3L1222.1 257.5M1242.5 253.1L1245.6 252.4L1248.7 251.8L1251.7 251.1L1254.8 250.4L1257.9 249.7M1280.6 244.8L1284.3 244.1L1287.9 243.4L1291.5 242.8L1295.1 242.3M1316.0 239.3L1319.2 238.7L1322.4 238.2L1325.6 237.6L1328.9 236.9L1332.1 236.1M1353.6 230.7L1356.8 229.9L1360.1 229.2L1363.3 228.5L1366.6 227.8M1387.0 223.6L1390.1 223.0L1393.1 222.4L1396.2 221.8L1399.2 221.1L1402.3 220.5M1422.2 216.4L1425.5 215.8L1428.7 215.2L1431.9 214.7L1435.1 214.1L1438.3 213.6M1460.2 210.4L1463.8 210.0L1467.5 209.5L1471.2 209.1L1474.8 208.7M1496.2 206.7L1499.7 206.4L1503.2 206.0L1506.7 205.7L1510.2 205.2L1513.6 204.8L1517.1 204.3M1539.3 201.3L1542.3 200.9L1545.4 200.6L1548.4 200.3L1551.5 200.1L1554.5 199.9M1575.0 198.6L1578.2 198.3L1581.4 198.1L1584.6 197.8L1587.8 197.4L1591.0 197.0M1612.9 194.0L1616.5 193.6L1620.1 193.4L1623.7 193.2L1627.3 193.0M1650.2 192.2L1653.7 192.0L1657.2 191.9L1660.6 191.6L1664.1 191.4M1688.6 189.3L1691.6 189.1L1694.7 188.8L1697.7 188.5L1700.8 188.2L1703.8 187.9M1726.5 185.7L1730.5 185.4L1734.5 185.2"/>
<path stroke="#7F00FF" stroke-width="7.5" d="M284.1 1262.0L288.0 1260.6L291.9 1259.1L295.8 1257.5M344.1 1233.8L347.6 1231.9L351.0 1230.1L354.5 1228.2M397.4 1203.8L400.4 1201.9L403.4 1199.9L406.5 1198.1L409.5 1196.3L412.5 1194.6L415.5 1192.9L418.5 1191.3L421.5 1189.8M462.9 1166.2L466.9 1164.2L470.9 1162.2L474.8 1160.3M519.2 1138.8L522.7 1137.3L526.2 1135.8L529.7 1134.5M572.7 1117.7L576.1 1116.3L579.4 1114.8L582.8 1113.4L586.2 1112.0L589.5 1110.6L592.9 1109.2L596.3 1107.7M643.4 1093.8L646.8 1093.0L650.2 1092.3L653.6 1091.5M696.9 1080.8L700.7 1079.8L704.5 1078.8L708.3 1077.8M755.7 1071.2L758.7 1071.0L761.8 1070.9L764.8 1070.8L767.9 1070.7L770.9 1070.6L774.0 1070.5L777.0 1070.5L780.1 1070.4M823.5 1069.7L827.9 1069.7L832.3 1069.7M881.0 1070.0L885.4 1070.1L889.7 1070.1M938.5 1070.9L941.5 1071.0L944.6 1071.1L947.6 1071.1L950.7 1071.2L953.7 1071.3L956.7 1071.4L959.8 1071.5L962.8 1071.6M1015.5 1073.8L1019.0 1074.0L1022.5 1074.2L1026.0 1074.4L1029.5 1074.6M1075.5 1077.7L1078.8 1078.0L1082.2 1078.3L1085.5 1078.6M1134.3 1083.9L1137.5 1084.2L1140.7 1084.6L1143.9 1084.9L1147.1 1085.2L1150.3 1085.6L1153.5 1085.9M1197.5 1090.3L1201.1 1090.7L1204.6 1091.2L1208.2 1091.6M1255.7 1098.5L1258.8 1098.9L1262.0 1099.3L1265.2 1099.7L1268.3 1100.0M1315.8 1104.8L1318.8 1105.1L1321.9 1105.4L1324.9 1105.7L1328.0 1106.0L1331.0 1106.4L1334.0 1106.7L1337.1 1107.0L1340.1 1107.3M1392.8 1113.2L1395.9 1113.6L1399.1 1114.0L1402.3 1114.4L1405.4 1114.9M1456.8 1122.6L1460.5 1123.1L1464.3 1123.7L1468.0 1124.3M1515.0 1130.0L1518.7 1130.4L1522.4 1130.8L1526.0 1131.2L1529.7 1131.7M1577.8 1137.2L1580.8 1137.5L1583.8 1137.8L1586.8 1138.2L1589.8 1138.5M1635.1 1143.1L1638.8 1143.5L1642.6 1144.0L1646.3 1144.4L1650.0 1144.9M1698.1 1151.4L1701.1 1151.8L1704.1 1152.2L1707.2 1152.7L1710.2 1153.1L1713.3 1153.5L1716.3 1153.9L1719.3 1154.3L1722.4 1154.7L1725.4 1155.1L1728.5 1155.5L1731.5 1155.9L1734.5 1156.3M238.0 1274.0h0.01M254.4 1271.0h0.01M270.2 1266.7h0.01M313.6 1249.8h0.01M327.4 1242.6h0.01M369.0 1220.5h0.01M384.0 1212.3h0.01M436.8 1181.5h0.01M449.3 1173.6h0.01M490.6 1152.7h0.01M504.2 1146.0h0.01M542.8 1129.8h0.01M557.7 1124.0h0.01M612.5 1101.5h0.01M627.4 1097.5h0.01M668.7 1088.0h0.01M681.7 1084.9h0.01M720.9 1074.8h0.01M739.2 1072.5h0.01M795.3 1070.1h0.01M808.4 1069.8h0.01M848.8 1069.8h0.01M863.2 1069.9h0.01M905.0 1070.3h0.01M922.0 1070.6h0.01M983.3 1072.3h0.01M1000.3 1073.0h0.01M1043.3 1075.4h0.01M1059.0 1076.5h0.01M1101.0 1080.2h0.01M1116.0 1081.8h0.01M1167.4 1087.2h0.01M1181.7 1088.6h0.01M1222.2 1093.6h0.01M1236.6 1095.7h0.01M1283.6 1101.7h0.01M1297.9 1103.1h0.01M1356.7 1109.1h0.01M1373.6 1110.9h0.01M1422.0 1117.3h0.01M1441.5 1120.2h0.01M1484.0 1126.5h0.01M1498.0 1128.1h0.01M1546.0 1133.5h0.01M1562.5 1135.5h0.01M1603.6 1139.9h0.01M1619.0 1141.4h0.01M1666.9 1147.1h0.01M1681.5 1149.1h0.01"/>
<path stroke="#7F00FF" d="M219.5 1276.5L221.0 1276.5L222.5 1276.5L224.0 1276.4L225.5 1276.4L227.0 1276.4L228.5 1276.3L230.0 1276.3L231.5 1276.3L233.0 1276.2L234.5 1276.2L236.0 1276.1L237.5 1276.1L239.0 1276.0L240.5 1275.9L242.0 1275.9L243.5 1275.8L245.0 1275.7L246.5 1275.7L248.0 1275.6L249.5 1275.5L251.0 1275.5L252.5 1275.4L254.0 1275.3L255.5 1275.2L257.0 1275.2L258.5 1275.1L260.0 1275.0L261.5 1274.9L263.0 1274.8L264.5 1274.7L266.0 1274.6L267.5 1274.5L269.0 1274.4L270.5 1274.3L272.0 1274.2L273.5 1274.1L275.0 1273.9L276.5 1273.8L278.0 1273.7L279.5 1273.5L281.0 1273.4L282.5 1273.2L284.0 1273.1L285.5 1272.9L287.0 1272.7L288.5 1272.6L290.0 1272.4L291.5 1272.3L293.0 1272.1L294.5 1271.9L296.0 1271.7L297.5 1271.6L299.0 1271.4L300.5 1271.2L302.0 1271.1L303.5 1270.9L305.0 1270.6L306.5 1270.6L308.0 1270.3L309.5 1270.1L311.0 1269.8L312.5 1269.6L314.0 1269.6L315.5 1269.6L317.0 1269.3L318.5 1269.0L320.0 1268.8L321.5 1268.7L323.0 1268.8L324.5 1268.4L326.0 1268.1L327.5 1268.0L329.0 1267.8L330.5 1267.4L332.0 1267.2L333.5 1266.8L335.0 1266.6L336.5 1266.2L338.0 1266.3L339.5 1266.3L341.0 1265.5L342.5 1265.0L344.0 1264.8L345.5 1264.7L347.0 1264.8L348.5 1264.4L350.0 1264.3L351.5 1263.6L353.0 1263.4L354.5 1263.2L356.0 1262.7L357.5 1262.3L359.0 1262.4L360.5 1262.2L362.0 1262.1L363.5 1261.1L365.0 1261.4L366.5 1261.5L368.0 1261.5L369.5 1260.6L371.0 1259.8L372.5 1259.6L374.0 1259.2L375.5 1259.1L377.0 1257.7L378.5 1257.5L380.0 1257.4L381.5 1256.7L383.0 1256.1L384.5 1256.7L386.0 1256.4L387.5 1255.3L389.0 1255.8L390.5 1254.9L392.0 1254.0L393.5 1253.4L395.0 1253.0L396.5 1253.1L398.0 1252.7L399.5 1252.4L401.0 1251.7L402.5 1251.7L404.0 1250.9L405.5 1250.8L407.0 1249.9L408.5 1250.2L410.0 1250.1L411.5 1249.4L413.0 1249.0L414.5 1248.3L416.0 1247.9L417.5 1247.8L419.0 1247.9L420.5 1246.5L422.0 1246.3L423.5 1246.5L425.0 1245.5L426.5 1244.8L428.0 1245.3L429.5 1244.8L431.0 1245.4L432.5 1245.0L434.0 1244.3L435.5 1243.7L437.0 1243.2L438.5 1242.7L440.0 1242.2L441.5 1241.3L443.0 1241.1L444.5 1241.2L446.0 1240.4L447.5 1239.7L449.0 1239.4L450.5 1240.1L452.0 1240.2L453.5 1239.6L455.0 1238.6L456.5 1238.6L458.0 1237.1L459.5 1237.3L461.0 1236.9L462.5 1237.4L464.0 1236.7L465.5 1235.6L467.0 1235.1L468.5 1234.2L470.0 1234.0L471.5 1233.2L473.0 1233.1L474.5 1232.9L476.0 1231.6L477.5 1231.8L479.0 1229.7L480.5 1229.1L482.0 1229.4L483.5 1229.3L485.0 1229.5L486.5 1228.4L488.0 1227.6L489.5 1227.4L491.0 1226.3L492.5 1226.1L494.0 1225.2L495.5 1224.6L497.0 1224.6L498.5 1224.2L500.0 1223.1L501.5 1223.4L503.0 1222.0L504.5 1221.9L506.0 1221.8L507.5 1220.9L509.0 1219.9L510.5 1219.3L512.0 1219.3L513.5 1219.7L515.0 1218.8L516.5 1217.4L518.0 1217.1L519.5 1216.1L521.0 1216.8L522.5 1216.5L524.0 1216.1L525.5 1214.5L527.0 1213.7L528.5 1213.2L530.0 1213.2L531.5 1212.9L533.0 1212.4L534.5 1212.5L536.0 1211.4L537.5 1211.6L539.0 1211.2L540.5 1210.1L542.0 1209.5L543.5 1210.0L545.0 1209.2L546.5 1207.9L548.0 1207.4L549.5 1206.8L551.0 1206.6L552.5 1205.7L554.0 1205.6L555.5 1204.7L557.0 1203.9L558.5 1203.9L560.0 1203.3L561.5 1201.8L563.0 1201.6L564.5 1201.1L566.0 1200.7L567.5 1200.6L569.0 1199.1L570.5 1199.0L572.0 1198.2L573.5 1198.0L575.0 1196.9L576.5 1196.5L578.0 1196.7L579.5 1195.8L581.0 1195.4L582.5 1193.4L584.0 1192.8L585.5 1192.2L587.0 1192.0L588.5 1191.7L590.0 1191.7L591.5 1190.6L593.0 1191.1L594.5 1191.2L596.0 1189.8L597.5 1189.5L599.0 1189.5L600.5 1188.3L602.0 1187.7L603.5 1187.6L605.0 1187.3L606.5 1186.5L608.0 1185.7L609.5 1185.3L611.0 1184.6L612.5 1184.5L614.0 1183.6L615.5 1182.9L617.0 1182.1L618.5 1182.6L620.0 1181.6L621.5 1180.5L623.0 1180.5L624.5 1179.8L626.0 1179.7L627.5 1179.1L629.0 1178.6L630.5 1178.2L632.0 1177.8L633.5 1177.2L635.0 1176.3L636.5 1176.2L638.0 1176.0L639.5 1174.7L641.0 1174.4L642.5 1174.3L644.0 1174.3L645.5 1174.4L647.0 1174.0L648.5 1173.4L650.0 1172.6L651.5 1172.1L653.0 1171.5L654.5 1171.3L656.0 1169.7L657.5 1169.6L659.0 1170.1L660.5 1169.2L662.0 1168.1L663.5 1167.8L665.0 1167.6L666.5 1167.8L668.0 1166.3L669.5 1166.2L671.0 1166.5L672.5 1166.1L674.0 1165.2L675.5 1165.5L677.0 1164.9L678.5 1164.3L680.0 1163.8L681.5 1163.2L683.0 1163.3L684.5 1163.2L686.0 1162.6L687.5 1162.3L689.0 1161.7L690.5 1161.0L692.0 1160.7L693.5 1160.1L695.0 1159.7L696.5 1159.3L698.0 1159.6L699.5 1158.2L701.0 1157.9L702.5 1158.0L704.0 1157.2L705.5 1156.9L707.0 1156.6L708.5 1156.2L710.0 1156.0L711.5 1155.2L713.0 1154.8L714.5 1154.2L716.0 1153.9L717.5 1153.5L719.0 1152.7L720.5 1152.8L722.0 1152.7L723.5 1152.6L725.0 1152.2L726.5 1152.2L728.0 1151.8L729.5 1151.4L731.0 1151.4L732.5 1150.8L734.0 1149.9L735.5 1150.0L737.0 1149.5L738.5 1148.4L740.0 1148.2L741.5 1147.6L743.0 1147.7L744.5 1147.4L746.0 1146.3L747.5 1145.9L749.0 1146.6L750.5 1146.2L752.0 1145.9L753.5 1145.3L755.0 1145.1L756.5 1145.2L758.0 1144.8L759.5 1144.1L761.0 1143.7L762.5 1144.0L764.0 1143.6L765.5 1142.9L767.0 1143.1L768.5 1141.9L770.0 1140.6L771.5 1140.7L773.0 1140.8L774.5 1140.7L776.0 1139.7L777.5 1139.7L779.0 1139.3L780.5 1139.7L782.0 1139.6L783.5 1139.1L785.0 1138.2L786.5 1138.2L788.0 1137.9L789.5 1137.5L791.0 1137.3L792.5 1137.3L794.0 1136.4L795.5 1135.6L797.0 1135.7L798.5 1135.7L800.0 1135.4L801.5 1134.2L803.0 1134.2L804.5 1133.8L806.0 1133.7L807.5 1133.6L809.0 1132.8L810.5 1132.5L812.0 1132.0L813.5 1131.9L815.0 1132.2L816.5 1131.3L818.0 1131.3L819.5 1131.1L821.0 1130.3L822.5 1130.5L824.0 1129.0L825.5 1129.9L827.0 1129.9L828.5 1129.1L830.0 1128.2L831.5 1127.7L833.0 1127.0L834.5 1127.8L836.0 1126.7L837.5 1126.7L839.0 1125.6L840.5 1125.6L842.0 1125.6L843.5 1125.0L845.0 1125.1L846.5 1124.5L848.0 1124.3L849.5 1123.6L851.0 1122.7L852.5 1122.4L854.0 1122.3L855.5 1122.2L857.0 1121.4L858.5 1120.5L860.0 1120.2L861.5 1119.7L863.0 1119.4L864.5 1118.9L866.0 1118.8L867.5 1118.6L869.0 1117.6L870.5 1117.5L872.0 1116.8L873.5 1116.9L875.0 1116.0L876.5 1115.3L878.0 1114.6L879.5 1114.4L881.0 1114.3L882.5 1113.6L884.0 1113.5L885.5 1112.1L887.0 1112.3L888.5 1112.2L890.0 1111.0L891.5 1111.8L893.0 1111.5L894.5 1111.3L896.0 1111.2L897.5 1110.2L899.0 1109.3L900.5 1110.0L902.0 1109.1L903.5 1107.9L905.0 1107.1L906.5 1108.3L908.0 1107.9L909.5 1107.6L911.0 1107.3L912.5 1107.1L914.0 1107.5L915.5 1106.4L917.0 1106.4L918.5 1105.9L920.0 1105.2L921.5 1104.5L923.0 1104.4L924.5 1103.9L926.0 1104.3L927.5 1104.6L929.0 1104.1L930.5 1103.3L932.0 1102.4L933.5 1101.9L935.0 1102.4L936.5 1102.4L938.0 1102.5L939.5 1101.5L941.0 1101.2L942.5 1101.5L944.0 1101.1L945.5 1100.2L947.0 1099.6L948.5 1098.9L950.0 1098.6L951.5 1099.4L953.0 1098.6L954.5 1099.2L956.0 1099.2L957.5 1098.8L959.0 1098.0L960.5 1098.7L962.0 1098.4L963.5 1098.2L965.0 1097.5L966.5 1096.3L968.0 1096.5L969.5 1096.6L971.0 1095.5L972.5 1095.5L974.0 1095.5L975.5 1094.6L977.0 1094.7L978.5 1094.6L980.0 1094.6L981.5 1094.2L983.0 1093.8L984.5 1093.5L986.0 1093.1L987.5 1093.6L989.0 1093.3L990.5 1092.5L992.0 1092.2L993.5 1092.5L995.0 1092.6L996.5 1091.6L998.0 1091.6L999.5 1091.5L1001.0 1091.3L1002.5 1090.4L1004.0 1090.7L1005.5 1090.0L1007.0 1089.3L1008.5 1090.2L1010.0 1089.8L1011.5 1089.5L1013.0 1090.0L1014.5 1088.3L1016.0 1087.8L1017.5 1086.8L1019.0 1086.9L1020.5 1087.7L1022.0 1087.5L1023.5 1087.4L1025.0 1086.5L1026.5 1085.9L1028.0 1085.5L1029.5 1086.4L1031.0 1085.9L1032.5 1085.8L1034.0 1084.5L1035.5 1084.8L1037.0 1083.9L1038.5 1083.9L1040.0 1084.1L1041.5 1084.0L1043.0 1084.0L1044.5 1083.2L1046.0 1082.7L1047.5 1082.8L1049.0 1083.2L1050.5 1082.6L1052.0 1082.3L1053.5 1082.1L1055.0 1081.6L1056.5 1081.5L1058.0 1081.0L1059.5 1080.8L1061.0 1081.0L1062.5 1080.2L1064.0 1080.1L1065.5 1080.0L1067.0 1079.9L1068.5 1079.5L1070.0 1079.5L1071.5 1079.6L1073.0 1079.7L1074.5 1078.4L1076.0 1078.6L1077.5 1078.3L1079.0 1078.9L1080.5 1078.0L1082.0 1077.7L1083.5 1077.8L1085.0 1076.7L1086.5 1077.8L1088.0 1077.8L1089.5 1077.2L1091.0 1076.3L1092.5 1076.5L1094.0 1076.7L1095.5 1076.7L1097.0 1076.6L1098.5 1076.7L1100.0 1076.6L1101.5 1074.7L1103.0 1075.7L1104.5 1075.9L1106.0 1075.2L1107.5 1075.0L1109.0 1075.2L1110.5 1074.2L1112.0 1075.1L1113.5 1074.4L1115.0 1074.2L1116.5 1073.5L1118.0 1073.7L1119.5 1074.3L1121.0 1074.3L1122.5 1073.6L1124.0 1072.4L1125.5 1072.4L1127.0 1072.2L1128.5 1072.3L1130.0 1071.7L1131.5 1072.6L1133.0 1072.5L1134.5 1072.0L1136.0 1071.7L1137.5 1071.7L1139.0 1071.9L1140.5 1071.0L1142.0 1070.8L1143.5 1070.8L1145.0 1070.6L1146.5 1071.0L1148.0 1070.7L1149.5 1070.9L1151.0 1070.3L1152.5 1069.6L1154.0 1069.6L1155.5 1068.6L1157.0 1068.8L1158.5 1069.5L1160.0 1070.0L1161.5 1069.0L1163.0 1069.0L1164.5 1069.1L1166.0 1068.2L1167.5 1068.8L1169.0 1068.9L1170.5 1069.1L1172.0 1069.1L1173.5 1068.3L1175.0 1067.6L1176.5 1067.8L1178.0 1067.9L1179.5 1069.2L1181.0 1067.8L1182.5 1067.0L1184.0 1067.1L1185.5 1066.8L1187.0 1066.2L1188.5 1066.1L1190.0 1066.8L1191.5 1066.6L1193.0 1066.8L1194.5 1066.5L1196.0 1067.3L1197.5 1066.4L1199.0 1066.3L1200.5 1065.7L1202.0 1065.2L1203.5 1064.8L1205.0 1064.4L1206.5 1064.4L1208.0 1064.3L1209.5 1064.0L1211.0 1063.9L1212.5 1064.3L1214.0 1063.7L1215.5 1064.3L1217.0 1064.4L1218.5 1064.1L1220.0 1063.7L1221.5 1064.1L1223.0 1064.2L1224.5 1064.5L1226.0 1064.3L1227.5 1063.5L1229.0 1062.5L1230.5 1062.2L1232.0 1061.3L1233.5 1061.5L1235.0 1061.5L1236.5 1061.8L1238.0 1061.3L1239.5 1061.7L1241.0 1061.6L1242.5 1061.1L1244.0 1060.9L1245.5 1060.5L1247.0 1060.3L1248.5 1060.0L1250.0 1059.5L1251.5 1059.4L1253.0 1059.7L1254.5 1059.1L1256.0 1058.7L1257.5 1058.8L1259.0 1059.7L1260.5 1059.4L1262.0 1058.9L1263.5 1059.0L1265.0 1058.7L1266.5 1057.2L1268.0 1057.6L1269.5 1057.9L1271.0 1058.1L1272.5 1058.0L1274.0 1057.9L1275.5 1056.7L1277.0 1056.5L1278.5 1056.6L1280.0 1057.3L1281.5 1056.5L1283.0 1056.7L1284.5 1056.8L1286.0 1057.0L1287.5 1056.6L1289.0 1056.7L1290.5 1056.1L1292.0 1055.2L1293.5 1054.5L1295.0 1054.9L1296.5 1054.3L1298.0 1055.2L1299.5 1055.2L1301.0 1054.9L1302.5 1054.3L1304.0 1054.1L1305.5 1054.4L1307.0 1054.2L1308.5 1053.4L1310.0 1054.0L1311.5 1053.6L1313.0 1053.1L1314.5 1053.0L1316.0 1052.9L1317.5 1053.4L1319.0 1053.0L1320.5 1052.5L1322.0 1052.4L1323.5 1052.3L1325.0 1051.6L1326.5 1051.0L1328.0 1051.0L1329.5 1051.2L1331.0 1050.5L1332.5 1050.2L1334.0 1050.4L1335.5 1050.7L1337.0 1050.9L1338.5 1050.3L1340.0 1050.7L1341.5 1049.8L1343.0 1049.8L1344.5 1049.8L1346.0 1050.7L1347.5 1050.6L1349.0 1049.6L1350.5 1049.8L1352.0 1049.4L1353.5 1049.3L1355.0 1049.7L1356.5 1049.2L1358.0 1048.5L1359.5 1048.5L1361.0 1048.7L1362.5 1048.5L1364.0 1048.0L1365.5 1047.9L1367.0 1047.8L1368.5 1047.8L1370.0 1048.1L1371.5 1048.4L1373.0 1047.8L1374.5 1047.1L1376.0 1047.3L1377.5 1046.9L1379.0 1047.5L1380.5 1047.4L1382.0 1047.3L1383.5 1046.0L1385.0 1046.2L1386.5 1046.5L1388.0 1045.8L1389.5 1045.9L1391.0 1046.5L1392.5 1046.4L1394.0 1045.6L1395.5 1046.0L1397.0 1046.1L1398.5 1046.1L1400.0 1045.8L1401.5 1045.6L1403.0 1045.2L1404.5 1044.8L1406.0 1044.1L1407.5 1044.6L1409.0 1044.8L1410.5 1044.6L1412.0 1044.8L1413.5 1044.8L1415.0 1044.2L1416.5 1044.2L1418.0 1044.4L1419.5 1044.9L1421.0 1044.3L1422.5 1044.1L1424.0 1043.7L1425.5 1043.4L1427.0 1044.1L1428.5 1042.8L1430.0 1043.5L1431.5 1043.1L1433.0 1043.0L1434.5 1043.1L1436.0 1043.1L1437.5 1043.4L1439.0 1043.6L1440.5 1043.7L1442.0 1042.5L1443.5 1042.6L1445.0 1042.7L1446.5 1042.8L1448.0 1042.0L1449.5 1042.8L1451.0 1042.9L1452.5 1042.5L1454.0 1043.6L1455.5 1042.3L1457.0 1042.0L1458.5 1041.8L1460.0 1042.0L1461.5 1041.6L1463.0 1041.3L1464.5 1041.9L1466.0 1041.6L1467.5 1041.9L1469.0 1042.2L1470.5 1041.6L1472.0 1040.9L1473.5 1040.8L1475.0 1041.1L1476.5 1041.4L1478.0 1041.2L1479.5 1040.4L1481.0 1040.6L1482.5 1041.3L1484.0 1041.5L1485.5 1040.6L1487.0 1040.5L1488.5 1040.4L1490.0 1039.5L1491.5 1039.8L1493.0 1039.0L1494.5 1038.6L1496.0 1038.6L1497.5 1038.3L1499.0 1038.8L1500.5 1039.1L1502.0 1038.7L1503.5 1038.6L1505.0 1039.0L1506.5 1038.9L1508.0 1039.6L1509.5 1039.5L1511.0 1038.1L1512.5 1038.0L1514.0 1037.6L1515.5 1037.2L1517.0 1037.9L1518.5 1037.8L1520.0 1037.2L1521.5 1038.0L1523.0 1038.3L1524.5 1037.7L1526.0 1037.7L1527.5 1037.2L1529.0 1037.1L1530.5 1036.3L1532.0 1036.4L1533.5 1036.7L1535.0 1036.4L1536.5 1037.1L1538.0 1036.4L1539.5 1036.6L1541.0 1036.6L1542.5 1035.8L1544.0 1036.6L1545.5 1036.6L1547.0 1036.9L1548.5 1036.7L1550.0 1036.6L1551.5 1037.2L1553.0 1036.7L1554.5 1036.5L1556.0 1036.1L1557.5 1036.2L1559.0 1036.0L1560.5 1036.0L1562.0 1036.5L1563.5 1036.0L1565.0 1036.0L1566.5 1035.7L1568.0 1036.8L1569.5 1036.3L1571.0 1035.9L1572.5 1035.9L1574.0 1035.1L1575.5 1036.1L1577.0 1035.4L1578.5 1035.2L1580.0 1035.6L1581.5 1035.1L1583.0 1035.9L1584.5 1035.8L1586.0 1036.3L1587.5 1035.1L1589.0 1035.2L1590.5 1035.5L1592.0 1035.1L1593.5 1036.0L1595.0 1035.8L1596.5 1035.4L1598.0 1035.5L1599.5 1035.8L1601.0 1035.5L1602.5 1035.4L1604.0 1035.2L1605.5 1035.4L1607.0 1035.3L1608.5 1035.2L1610.0 1035.7L1611.5 1035.2L1613.0 1034.7L1614.5 1034.7L1616.0 1034.6L1617.5 1034.4L1619.0 1035.0L1620.5 1034.9L1622.0 1034.9L1623.5 1035.5L1625.0 1035.4L1626.5 1035.2L1628.0 1034.8L1629.5 1035.2L1631.0 1034.8L1632.5 1035.3L1634.0 1035.5L1635.5 1035.0L1637.0 1035.1L1638.5 1035.1L1640.0 1034.9L1641.5 1034.9L1643.0 1035.3L1644.5 1034.1L1646.0 1034.4L1647.5 1034.6L1649.0 1034.7L1650.5 1034.2L1652.0 1034.1L1653.5 1034.2L1655.0 1035.0L1656.5 1034.3L1658.0 1034.6L1659.5 1034.9L1661.0 1034.5L1662.5 1035.2L1664.0 1034.5L1665.5 1034.0L1667.0 1033.8L1668.5 1034.0L1670.0 1034.4L1671.5 1033.7L1673.0 1033.3L1674.5 1034.0L1676.0 1034.2L1677.5 1033.6L1679.0 1033.1L1680.5 1032.6L1682.0 1032.6L1683.5 1033.4L1685.0 1033.1L1686.5 1033.7L1688.0 1033.6L1689.5 1032.8L1691.0 1033.4L1692.5 1033.3L1694.0 1033.2L1695.5 1033.4L1697.0 1032.9L1698.5 1034.2L1700.0 1033.2L1701.5 1032.9L1703.0 1032.8L1704.5 1033.5L1706.0 1033.2L1707.5 1032.4L1709.0 1032.9L1710.5 1032.6L1712.0 1032.4L1713.5 1032.1L1715.0 1032.7L1716.5 1032.7L1718.0 1032.2L1719.5 1032.0L1721.0 1032.5L1722.5 1031.7L1724.0 1032.4L1725.5 1031.4L1727.0 1031.9L1728.5 1031.8L1730.0 1032.1L1731.5 1032.0L1733.0 1032.9L1734.5 1032.4"/>
</g>
<g stroke="#000" fill="none" stroke-linecap="butt">
<path stroke-width="6" d="M217 1277H1732"/>
<path stroke-width="6" d="M196 58H1732"/>
<path stroke-width="5" d="M219.5 55V1301"/>
<path stroke-width="5" d="M969.5 1280V1301M1719.5 1280V1301"/>
<path stroke-width="5" d="M594.5 1280V1289M1344.5 1280V1289"/>
<path stroke-width="5" d="M969.5 61V83M1719.5 61V83M594.5 61V71M1344.5 61V71"/>
<path stroke-width="6" d="M196 1277.0H217M196 1033.2H217M196 789.4H217M196 545.6H217M196 301.8H217M207 1155.1H217M207 911.3H217M207 667.5H217M207 423.7H217M207 179.9H217"/>
</g>
<g stroke="#7F00FF" fill="none">
<path stroke-width="5" d="M1734.5 55V1280"/>
<path stroke-width="6" d="M1732 1277.0H1758M1732 1141.6H1758M1732 1006.1H1758M1732 870.7H1758M1732 735.2H1758M1732 599.8H1758M1732 464.3H1758M1732 328.9H1758M1732 193.4H1758M1732 58.0H1758"/>
</g>
<g class="tk" fill="#000" text-anchor="end">
<text x="180" y="1292.0">0</text>
<text x="180" y="1048.2">100</text>
<text x="180" y="804.4">200</text>
<text x="180" y="560.6">300</text>
<text x="180" y="316.8">400</text>
<text x="180" y="73.0">500</text>
</g>
<g class="tk" fill="#000" text-anchor="middle">
<text x="219.5" y="1356.7">0</text>
<text x="969.5" y="1356.7">100</text>
<text x="1719.5" y="1356.7">200</text>
</g>
<g class="tk" fill="#7F00FF" text-anchor="start">
<text x="1775.5" y="1292.0">0</text>
<text x="1775.5" y="1156.6">1000</text>
<text x="1775.5" y="1021.1">2000</text>
<text x="1775.5" y="885.7">3000</text>
<text x="1775.5" y="750.2">4000</text>
<text x="1775.5" y="614.8">5000</text>
<text x="1775.5" y="479.3">6000</text>
<text x="1775.5" y="343.9">7000</text>
<text x="1775.5" y="208.4">8000</text>
<text x="1775.5" y="73.0">9000</text>
</g>
<text class="ax" x="976.7" y="1458" text-anchor="middle" textLength="257.8" lengthAdjust="spacingAndGlyphs">Time (ps)</text>
<text class="ax" transform="translate(76,668.5) rotate(-90)" text-anchor="middle" textLength="507.8" lengthAdjust="spacingAndGlyphs">Number of Species</text>
<text class="ax" fill="#000" transform="translate(1948.3,668.5) rotate(-90)" text-anchor="middle" textLength="507.8" lengthAdjust="spacingAndGlyphs">Number of Species</text>
<g class="tk" fill="#7F00FF">
<text x="918" y="282.5">CH2O</text>
<text x="819" y="1056">CH3O</text>
<text x="1210" y="1029">CH3</text>
</g>
<rect x="272" y="79" width="167" height="588.5" fill="#fff" stroke="#000" stroke-width="2.2"/>
<g stroke-width="7" stroke-linecap="round" fill="none">
<path stroke="#22A7E0" d="M277.5 106.5H330.5"/>
<path stroke="#077198" d="M277.5 155.1H330.5"/>
<path stroke="#D03A78" d="M277.5 203.7H330.5"/>
<path stroke="#A51E2D" d="M277.5 252.4H330.5"/>
<path stroke="#74AE4B" d="M277.5 301.0H330.5"/>
<path stroke="#237A3C" d="M277.5 349.6H330.5"/>
<path stroke="#DB852B" d="M277.5 398.2H330.5"/>
<path stroke="#B65D10" d="M277.5 446.8H330.5"/>
<path stroke="#6667AE" d="M277.5 495.5H330.5"/>
<path stroke="#3D467A" d="M277.5 544.1H330.5"/>
<path stroke="#E8D030" d="M277.5 592.7H330.5"/>
<path stroke="#DCC800" d="M277.5 641.3H330.5"/>
</g>
<g class="lg" fill="#000">
<text x="341" y="119.1">CH4</text>
<text x="341" y="167.7">C2H2</text>
<text x="341" y="216.3">C2H3</text>
<text x="341" y="265.0">C2H4</text>
<text x="341" y="313.6">C2H5</text>
<text x="341" y="362.2">C2H6</text>
<text x="341" y="410.8">CO</text>
<text x="341" y="459.4">CO2</text>
<text x="341" y="508.1">OH</text>
<text x="341" y="556.7">H</text>
<text x="341" y="605.3">H2</text>
<text x="341" y="653.9">HO2</text>
</g>
</svg>
</body></html>
